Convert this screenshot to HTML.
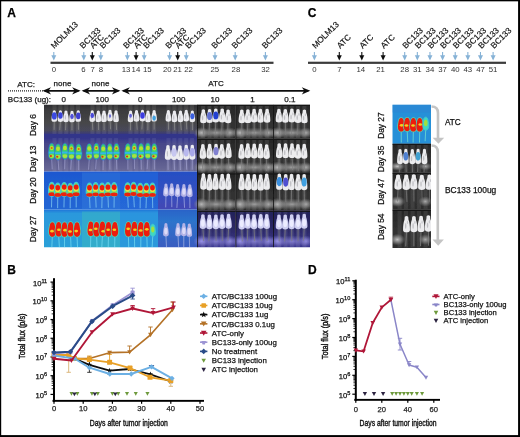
<!DOCTYPE html>
<html><head><meta charset="utf-8"><title>Figure</title>
<style>
html,body{margin:0;padding:0;background:#fff;}
body{width:520px;height:437px;overflow:hidden;}
svg{display:block;}
svg text{font-family:"Liberation Sans", sans-serif;stroke:#111;stroke-width:0.25px;}
</style></head><body>
<svg width="520" height="437" viewBox="0 0 520 437">
<defs>
<linearGradient id="gRow1" x1="0" y1="0" x2="0" y2="1">
 <stop offset="0" stop-color="#2c2c2e"/><stop offset="0.15" stop-color="#3a3a3c"/><stop offset="0.6" stop-color="#464648"/><stop offset="0.88" stop-color="#48485a"/><stop offset="1" stop-color="#38387a"/></linearGradient>
<linearGradient id="gRow2" x1="0" y1="0" x2="0" y2="1">
 <stop offset="0" stop-color="#32348a"/><stop offset="0.12" stop-color="#34368a"/><stop offset="0.25" stop-color="#46468a"/><stop offset="0.65" stop-color="#55558a"/><stop offset="1" stop-color="#6a6a98"/></linearGradient>
<linearGradient id="gRow3" x1="0" y1="0" x2="0" y2="1">
 <stop offset="0" stop-color="#1e58d0"/><stop offset="1" stop-color="#2266d4"/></linearGradient>
<linearGradient id="gRow4" x1="0" y1="0" x2="0" y2="1">
 <stop offset="0" stop-color="#2274d8"/><stop offset="0.1" stop-color="#2a98dc"/><stop offset="1" stop-color="#2aa0d8"/></linearGradient>
<linearGradient id="gRow4b" x1="0" y1="0" x2="0" y2="1">
 <stop offset="0" stop-color="#2a62c8"/><stop offset="0.3" stop-color="#2c74cc"/><stop offset="1" stop-color="#3a5cc0"/></linearGradient>
<linearGradient id="gRow3b" x1="0" y1="0" x2="0" y2="1">
 <stop offset="0" stop-color="#2650c4"/><stop offset="0.5" stop-color="#3250c0"/><stop offset="1" stop-color="#4448b4"/></linearGradient>
<linearGradient id="gBW" x1="0" y1="0" x2="0" y2="1">
 <stop offset="0" stop-color="#262626"/><stop offset="0.6" stop-color="#323232"/><stop offset="1" stop-color="#2e2e2e"/></linearGradient>
<linearGradient id="gBWp" x1="0" y1="0" x2="0" y2="1">
 <stop offset="0" stop-color="#221f58"/><stop offset="0.5" stop-color="#2c2a66"/><stop offset="1" stop-color="#3a3690"/></linearGradient>
<radialGradient id="glow" cx="0.5" cy="0.5" r="0.5">
 <stop offset="0" stop-color="#c4c4c4"/><stop offset="0.5" stop-color="#999999" stop-opacity="0.65"/><stop offset="1" stop-color="#888888" stop-opacity="0"/></radialGradient>
<radialGradient id="glowp" cx="0.5" cy="0.5" r="0.5">
 <stop offset="0" stop-color="#9a94e8"/><stop offset="1" stop-color="#8a84d8" stop-opacity="0"/></radialGradient>
<filter id="soft" x="-5%" y="-5%" width="110%" height="110%"><feGaussianBlur stdDeviation="0.45"/></filter>
<filter id="txtsoft" x="0" y="0" width="100%" height="100%" filterUnits="userSpaceOnUse"><feGaussianBlur stdDeviation="0.22"/></filter>
<clipPath id="clipA"><rect x="44" y="104.5" width="266" height="143"/></clipPath>
<clipPath id="clipC"><rect x="392.3" y="104.5" width="38.7" height="143.5"/></clipPath>
</defs>
<rect x="0" y="0" width="520" height="437" fill="#fff"/>
<g clip-path="url(#clipA)" filter="url(#soft)">
<rect x="44" y="104.5" width="38" height="29.5" fill="url(#gRow1)"/>
<rect x="82" y="104.5" width="38" height="29.5" fill="url(#gRow1)"/>
<rect x="120" y="104.5" width="38" height="29.5" fill="url(#gRow1)"/>
<rect x="158" y="104.5" width="39" height="29.5" fill="url(#gRow1)"/>
<rect x="44" y="134" width="38" height="37.5" fill="url(#gRow2)"/>
<rect x="82" y="134" width="38" height="37.5" fill="url(#gRow2)"/>
<rect x="120" y="134" width="38" height="37.5" fill="url(#gRow2)"/>
<rect x="158" y="134" width="39" height="37.5" fill="url(#gRow2)"/>
<rect x="44" y="171.5" width="38" height="38.0" fill="url(#gRow3)"/>
<rect x="82" y="171.5" width="38" height="38.0" fill="url(#gRow3)"/>
<rect x="120" y="171.5" width="38" height="38.0" fill="url(#gRow3)"/>
<rect x="158" y="171.5" width="39" height="38.0" fill="url(#gRow3b)"/>
<rect x="44" y="209.5" width="38" height="38.0" fill="url(#gRow4)"/>
<rect x="82" y="209.5" width="38" height="38.0" fill="url(#gRow4)"/>
<rect x="120" y="209.5" width="38" height="38.0" fill="url(#gRow4)"/>
<rect x="158" y="209.5" width="39" height="38.0" fill="url(#gRow4b)"/>
<rect x="82" y="172.5" width="38" height="37.0" fill="#3a80e0" opacity="0.35"/>
<rect x="82" y="211.5" width="38" height="36.0" fill="#40c0b8" opacity="0.4"/>
<rect x="120" y="172.5" width="38" height="37.0" fill="#2a6ee0" opacity="0.35"/>
<rect x="120" y="211.5" width="38" height="36.0" fill="#2a8ee0" opacity="0.4"/>
<rect x="197" y="104.5" width="38.5" height="34.099999999999994" fill="url(#gBW)"/>
<rect x="201.15" y="105.5" width="4" height="32.60" fill="#ffffff" opacity="0.09"/>
<rect x="207.45" y="105.5" width="4" height="32.60" fill="#ffffff" opacity="0.09"/>
<rect x="213.75" y="105.5" width="4" height="32.60" fill="#ffffff" opacity="0.09"/>
<rect x="220.05" y="105.5" width="4" height="32.60" fill="#ffffff" opacity="0.09"/>
<rect x="226.35" y="105.5" width="4" height="32.60" fill="#ffffff" opacity="0.09"/>
<ellipse cx="201.5" cy="132.80" rx="8" ry="5.8" fill="url(#glow)"/>
<ellipse cx="230" cy="132.80" rx="7" ry="5.5" fill="url(#glow)" opacity="0.85"/>
<ellipse cx="216" cy="132.80" rx="20" ry="5.5" fill="url(#glow)" opacity="0.7"/>
<rect x="197" y="104.5" width="38.5" height="1.2" fill="#111"/>
<rect x="197" y="104.5" width="0.8" height="34.099999999999994" fill="#151515"/>
<rect x="197" y="138.6" width="38.5" height="34.599999999999994" fill="url(#gBW)"/>
<rect x="201.15" y="139.6" width="4" height="33.10" fill="#ffffff" opacity="0.09"/>
<rect x="207.45" y="139.6" width="4" height="33.10" fill="#ffffff" opacity="0.09"/>
<rect x="213.75" y="139.6" width="4" height="33.10" fill="#ffffff" opacity="0.09"/>
<rect x="220.05" y="139.6" width="4" height="33.10" fill="#ffffff" opacity="0.09"/>
<rect x="226.35" y="139.6" width="4" height="33.10" fill="#ffffff" opacity="0.09"/>
<ellipse cx="201.5" cy="167.32" rx="8" ry="5.9" fill="url(#glow)"/>
<ellipse cx="230" cy="167.32" rx="7" ry="5.5" fill="url(#glow)" opacity="0.85"/>
<ellipse cx="216" cy="167.32" rx="20" ry="5.5" fill="url(#glow)" opacity="0.7"/>
<rect x="197" y="138.6" width="38.5" height="1.2" fill="#111"/>
<rect x="197" y="138.6" width="0.8" height="34.599999999999994" fill="#151515"/>
<rect x="197" y="173.2" width="38.5" height="37.400000000000006" fill="url(#gBW)"/>
<rect x="201.15" y="174.2" width="4" height="35.90" fill="#ffffff" opacity="0.09"/>
<rect x="207.45" y="174.2" width="4" height="35.90" fill="#ffffff" opacity="0.09"/>
<rect x="213.75" y="174.2" width="4" height="35.90" fill="#ffffff" opacity="0.09"/>
<rect x="220.05" y="174.2" width="4" height="35.90" fill="#ffffff" opacity="0.09"/>
<rect x="226.35" y="174.2" width="4" height="35.90" fill="#ffffff" opacity="0.09"/>
<ellipse cx="201.5" cy="204.24" rx="8" ry="6.4" fill="url(#glow)"/>
<ellipse cx="230" cy="204.24" rx="7" ry="6.0" fill="url(#glow)" opacity="0.85"/>
<ellipse cx="216" cy="204.24" rx="20" ry="6.0" fill="url(#glow)" opacity="0.7"/>
<rect x="197" y="173.2" width="38.5" height="1.2" fill="#111"/>
<rect x="197" y="173.2" width="0.8" height="37.400000000000006" fill="#151515"/>
<rect x="197" y="210.6" width="38.5" height="36.900000000000006" fill="url(#gBWp)"/>
<rect x="201.15" y="211.6" width="4" height="35.40" fill="#ffffff" opacity="0.09"/>
<rect x="207.45" y="211.6" width="4" height="35.40" fill="#ffffff" opacity="0.09"/>
<rect x="213.75" y="211.6" width="4" height="35.40" fill="#ffffff" opacity="0.09"/>
<rect x="220.05" y="211.6" width="4" height="35.40" fill="#ffffff" opacity="0.09"/>
<rect x="226.35" y="211.6" width="4" height="35.40" fill="#ffffff" opacity="0.09"/>
<ellipse cx="201.5" cy="241.23" rx="8" ry="6.3" fill="url(#glowp)"/>
<ellipse cx="230" cy="241.23" rx="7" ry="5.9" fill="url(#glowp)" opacity="0.85"/>
<ellipse cx="216" cy="241.23" rx="20" ry="5.9" fill="url(#glowp)" opacity="0.7"/>
<rect x="197" y="210.6" width="38.5" height="1.2" fill="#111"/>
<rect x="197" y="210.6" width="0.8" height="36.900000000000006" fill="#151515"/>
<rect x="235.5" y="104.5" width="37.5" height="34.099999999999994" fill="url(#gBW)"/>
<rect x="239.65" y="105.5" width="4" height="32.60" fill="#ffffff" opacity="0.09"/>
<rect x="245.95" y="105.5" width="4" height="32.60" fill="#ffffff" opacity="0.09"/>
<rect x="252.25" y="105.5" width="4" height="32.60" fill="#ffffff" opacity="0.09"/>
<rect x="258.55" y="105.5" width="4" height="32.60" fill="#ffffff" opacity="0.09"/>
<rect x="264.85" y="105.5" width="4" height="32.60" fill="#ffffff" opacity="0.09"/>
<ellipse cx="240.0" cy="132.80" rx="8" ry="5.8" fill="url(#glow)"/>
<ellipse cx="268.5" cy="132.80" rx="7" ry="5.5" fill="url(#glow)" opacity="0.85"/>
<ellipse cx="254.5" cy="132.80" rx="20" ry="5.5" fill="url(#glow)" opacity="0.7"/>
<rect x="235.5" y="104.5" width="37.5" height="1.2" fill="#111"/>
<rect x="235.5" y="104.5" width="0.8" height="34.099999999999994" fill="#151515"/>
<rect x="235.5" y="138.6" width="37.5" height="34.599999999999994" fill="url(#gBW)"/>
<rect x="239.65" y="139.6" width="4" height="33.10" fill="#ffffff" opacity="0.09"/>
<rect x="245.95" y="139.6" width="4" height="33.10" fill="#ffffff" opacity="0.09"/>
<rect x="252.25" y="139.6" width="4" height="33.10" fill="#ffffff" opacity="0.09"/>
<rect x="258.55" y="139.6" width="4" height="33.10" fill="#ffffff" opacity="0.09"/>
<rect x="264.85" y="139.6" width="4" height="33.10" fill="#ffffff" opacity="0.09"/>
<ellipse cx="240.0" cy="167.32" rx="8" ry="5.9" fill="url(#glow)"/>
<ellipse cx="268.5" cy="167.32" rx="7" ry="5.5" fill="url(#glow)" opacity="0.85"/>
<ellipse cx="254.5" cy="167.32" rx="20" ry="5.5" fill="url(#glow)" opacity="0.7"/>
<rect x="235.5" y="138.6" width="37.5" height="1.2" fill="#111"/>
<rect x="235.5" y="138.6" width="0.8" height="34.599999999999994" fill="#151515"/>
<rect x="235.5" y="173.2" width="37.5" height="37.400000000000006" fill="url(#gBW)"/>
<rect x="239.65" y="174.2" width="4" height="35.90" fill="#ffffff" opacity="0.09"/>
<rect x="245.95" y="174.2" width="4" height="35.90" fill="#ffffff" opacity="0.09"/>
<rect x="252.25" y="174.2" width="4" height="35.90" fill="#ffffff" opacity="0.09"/>
<rect x="258.55" y="174.2" width="4" height="35.90" fill="#ffffff" opacity="0.09"/>
<rect x="264.85" y="174.2" width="4" height="35.90" fill="#ffffff" opacity="0.09"/>
<ellipse cx="240.0" cy="204.24" rx="8" ry="6.4" fill="url(#glow)"/>
<ellipse cx="268.5" cy="204.24" rx="7" ry="6.0" fill="url(#glow)" opacity="0.85"/>
<ellipse cx="254.5" cy="204.24" rx="20" ry="6.0" fill="url(#glow)" opacity="0.7"/>
<rect x="235.5" y="173.2" width="37.5" height="1.2" fill="#111"/>
<rect x="235.5" y="173.2" width="0.8" height="37.400000000000006" fill="#151515"/>
<rect x="235.5" y="210.6" width="37.5" height="36.900000000000006" fill="url(#gBWp)"/>
<rect x="239.65" y="211.6" width="4" height="35.40" fill="#ffffff" opacity="0.09"/>
<rect x="245.95" y="211.6" width="4" height="35.40" fill="#ffffff" opacity="0.09"/>
<rect x="252.25" y="211.6" width="4" height="35.40" fill="#ffffff" opacity="0.09"/>
<rect x="258.55" y="211.6" width="4" height="35.40" fill="#ffffff" opacity="0.09"/>
<rect x="264.85" y="211.6" width="4" height="35.40" fill="#ffffff" opacity="0.09"/>
<ellipse cx="240.0" cy="241.23" rx="8" ry="6.3" fill="url(#glowp)"/>
<ellipse cx="268.5" cy="241.23" rx="7" ry="5.9" fill="url(#glowp)" opacity="0.85"/>
<ellipse cx="254.5" cy="241.23" rx="20" ry="5.9" fill="url(#glowp)" opacity="0.7"/>
<rect x="235.5" y="210.6" width="37.5" height="1.2" fill="#111"/>
<rect x="235.5" y="210.6" width="0.8" height="36.900000000000006" fill="#151515"/>
<rect x="273" y="104.5" width="37" height="34.099999999999994" fill="url(#gBW)"/>
<rect x="277.15" y="105.5" width="4" height="32.60" fill="#ffffff" opacity="0.09"/>
<rect x="283.45" y="105.5" width="4" height="32.60" fill="#ffffff" opacity="0.09"/>
<rect x="289.75" y="105.5" width="4" height="32.60" fill="#ffffff" opacity="0.09"/>
<rect x="296.05" y="105.5" width="4" height="32.60" fill="#ffffff" opacity="0.09"/>
<rect x="302.35" y="105.5" width="4" height="32.60" fill="#ffffff" opacity="0.09"/>
<ellipse cx="277.5" cy="132.80" rx="8" ry="5.8" fill="url(#glow)"/>
<ellipse cx="306" cy="132.80" rx="7" ry="5.5" fill="url(#glow)" opacity="0.85"/>
<ellipse cx="292" cy="132.80" rx="20" ry="5.5" fill="url(#glow)" opacity="0.7"/>
<rect x="273" y="104.5" width="37" height="1.2" fill="#111"/>
<rect x="273" y="104.5" width="0.8" height="34.099999999999994" fill="#151515"/>
<rect x="273" y="138.6" width="37" height="34.599999999999994" fill="url(#gBW)"/>
<rect x="277.15" y="139.6" width="4" height="33.10" fill="#ffffff" opacity="0.09"/>
<rect x="283.45" y="139.6" width="4" height="33.10" fill="#ffffff" opacity="0.09"/>
<rect x="289.75" y="139.6" width="4" height="33.10" fill="#ffffff" opacity="0.09"/>
<rect x="296.05" y="139.6" width="4" height="33.10" fill="#ffffff" opacity="0.09"/>
<rect x="302.35" y="139.6" width="4" height="33.10" fill="#ffffff" opacity="0.09"/>
<ellipse cx="277.5" cy="167.32" rx="8" ry="5.9" fill="url(#glow)"/>
<ellipse cx="306" cy="167.32" rx="7" ry="5.5" fill="url(#glow)" opacity="0.85"/>
<ellipse cx="292" cy="167.32" rx="20" ry="5.5" fill="url(#glow)" opacity="0.7"/>
<rect x="273" y="138.6" width="37" height="1.2" fill="#111"/>
<rect x="273" y="138.6" width="0.8" height="34.599999999999994" fill="#151515"/>
<rect x="273" y="173.2" width="37" height="37.400000000000006" fill="url(#gBW)"/>
<rect x="277.15" y="174.2" width="4" height="35.90" fill="#ffffff" opacity="0.09"/>
<rect x="283.45" y="174.2" width="4" height="35.90" fill="#ffffff" opacity="0.09"/>
<rect x="289.75" y="174.2" width="4" height="35.90" fill="#ffffff" opacity="0.09"/>
<rect x="296.05" y="174.2" width="4" height="35.90" fill="#ffffff" opacity="0.09"/>
<rect x="302.35" y="174.2" width="4" height="35.90" fill="#ffffff" opacity="0.09"/>
<ellipse cx="277.5" cy="204.24" rx="8" ry="6.4" fill="url(#glow)"/>
<ellipse cx="306" cy="204.24" rx="7" ry="6.0" fill="url(#glow)" opacity="0.85"/>
<ellipse cx="292" cy="204.24" rx="20" ry="6.0" fill="url(#glow)" opacity="0.7"/>
<rect x="273" y="173.2" width="37" height="1.2" fill="#111"/>
<rect x="273" y="173.2" width="0.8" height="37.400000000000006" fill="#151515"/>
<rect x="273" y="210.6" width="37" height="36.900000000000006" fill="url(#gBWp)"/>
<rect x="277.15" y="211.6" width="4" height="35.40" fill="#ffffff" opacity="0.09"/>
<rect x="283.45" y="211.6" width="4" height="35.40" fill="#ffffff" opacity="0.09"/>
<rect x="289.75" y="211.6" width="4" height="35.40" fill="#ffffff" opacity="0.09"/>
<rect x="296.05" y="211.6" width="4" height="35.40" fill="#ffffff" opacity="0.09"/>
<rect x="302.35" y="211.6" width="4" height="35.40" fill="#ffffff" opacity="0.09"/>
<ellipse cx="277.5" cy="241.23" rx="8" ry="6.3" fill="url(#glowp)"/>
<ellipse cx="306" cy="241.23" rx="7" ry="5.9" fill="url(#glowp)" opacity="0.85"/>
<ellipse cx="292" cy="241.23" rx="20" ry="5.9" fill="url(#glowp)" opacity="0.7"/>
<rect x="273" y="210.6" width="37" height="1.2" fill="#111"/>
<rect x="273" y="210.6" width="0.8" height="36.900000000000006" fill="#151515"/>
<rect x="52.45" y="105.00" width="4" height="29.00" fill="#ffffff" opacity="0.08"/>
<rect x="58.35" y="105.00" width="4" height="29.00" fill="#ffffff" opacity="0.08"/>
<rect x="64.25" y="105.00" width="4" height="29.00" fill="#ffffff" opacity="0.08"/>
<rect x="70.15" y="105.00" width="4" height="29.00" fill="#ffffff" opacity="0.08"/>
<rect x="76.05" y="105.00" width="4" height="29.00" fill="#ffffff" opacity="0.08"/>
<rect x="52.45" y="138.00" width="4" height="33.50" fill="#ffffff" opacity="0.07"/>
<rect x="58.35" y="138.00" width="4" height="33.50" fill="#ffffff" opacity="0.07"/>
<rect x="64.25" y="138.00" width="4" height="33.50" fill="#ffffff" opacity="0.07"/>
<rect x="70.15" y="138.00" width="4" height="33.50" fill="#ffffff" opacity="0.07"/>
<rect x="76.05" y="138.00" width="4" height="33.50" fill="#ffffff" opacity="0.07"/>
<rect x="90.45" y="105.00" width="4" height="29.00" fill="#ffffff" opacity="0.08"/>
<rect x="96.35" y="105.00" width="4" height="29.00" fill="#ffffff" opacity="0.08"/>
<rect x="102.25" y="105.00" width="4" height="29.00" fill="#ffffff" opacity="0.08"/>
<rect x="108.15" y="105.00" width="4" height="29.00" fill="#ffffff" opacity="0.08"/>
<rect x="114.05" y="105.00" width="4" height="29.00" fill="#ffffff" opacity="0.08"/>
<rect x="90.45" y="138.00" width="4" height="33.50" fill="#ffffff" opacity="0.07"/>
<rect x="96.35" y="138.00" width="4" height="33.50" fill="#ffffff" opacity="0.07"/>
<rect x="102.25" y="138.00" width="4" height="33.50" fill="#ffffff" opacity="0.07"/>
<rect x="108.15" y="138.00" width="4" height="33.50" fill="#ffffff" opacity="0.07"/>
<rect x="114.05" y="138.00" width="4" height="33.50" fill="#ffffff" opacity="0.07"/>
<rect x="128.45" y="105.00" width="4" height="29.00" fill="#ffffff" opacity="0.08"/>
<rect x="134.35" y="105.00" width="4" height="29.00" fill="#ffffff" opacity="0.08"/>
<rect x="140.25" y="105.00" width="4" height="29.00" fill="#ffffff" opacity="0.08"/>
<rect x="146.15" y="105.00" width="4" height="29.00" fill="#ffffff" opacity="0.08"/>
<rect x="152.05" y="105.00" width="4" height="29.00" fill="#ffffff" opacity="0.08"/>
<rect x="128.45" y="138.00" width="4" height="33.50" fill="#ffffff" opacity="0.07"/>
<rect x="134.35" y="138.00" width="4" height="33.50" fill="#ffffff" opacity="0.07"/>
<rect x="140.25" y="138.00" width="4" height="33.50" fill="#ffffff" opacity="0.07"/>
<rect x="146.15" y="138.00" width="4" height="33.50" fill="#ffffff" opacity="0.07"/>
<rect x="152.05" y="138.00" width="4" height="33.50" fill="#ffffff" opacity="0.07"/>
<rect x="166.45" y="105.00" width="4" height="29.00" fill="#ffffff" opacity="0.08"/>
<rect x="172.35" y="105.00" width="4" height="29.00" fill="#ffffff" opacity="0.08"/>
<rect x="178.25" y="105.00" width="4" height="29.00" fill="#ffffff" opacity="0.08"/>
<rect x="184.15" y="105.00" width="4" height="29.00" fill="#ffffff" opacity="0.08"/>
<rect x="190.05" y="105.00" width="4" height="29.00" fill="#ffffff" opacity="0.08"/>
<rect x="166.45" y="138.00" width="4" height="33.50" fill="#ffffff" opacity="0.07"/>
<rect x="172.35" y="138.00" width="4" height="33.50" fill="#ffffff" opacity="0.07"/>
<rect x="178.25" y="138.00" width="4" height="33.50" fill="#ffffff" opacity="0.07"/>
<rect x="184.15" y="138.00" width="4" height="33.50" fill="#ffffff" opacity="0.07"/>
<rect x="190.05" y="138.00" width="4" height="33.50" fill="#ffffff" opacity="0.07"/>
<line x1="54.29" y1="120.84" x2="54.08" y2="129.84" stroke="#8a8a8a" stroke-width="0.9" opacity="0.85"/>
<path d="M52.89,110.94 Q54.29,109.44 55.69,110.94 L55.90,112.88 C56.67,114.29 57.10,117.36 57.10,119.96 Q57.10,121.84 54.29,121.84 Q51.49,121.84 51.49,119.96 C51.49,117.36 51.91,114.29 52.68,112.88 Z" fill="#ececf0"/>
<ellipse cx="53.69" cy="117.12" rx="0.5" ry="2.36" fill="#9a9aa0" opacity="0.6"/>
<ellipse cx="54.29" cy="115.94" rx="2.47" ry="3.63" fill="#3a48e0"/>
<line x1="60.41" y1="120.93" x2="59.72" y2="129.93" stroke="#8a8a8a" stroke-width="0.9" opacity="0.85"/>
<path d="M59.01,111.03 Q60.41,109.53 61.81,111.03 L62.02,112.96 C62.79,114.37 63.21,117.44 63.21,120.04 Q63.21,121.93 60.41,121.93 Q57.61,121.93 57.61,120.04 C57.61,117.44 58.03,114.37 58.80,112.96 Z" fill="#ececf0"/>
<ellipse cx="59.81" cy="117.21" rx="0.5" ry="2.36" fill="#9a9aa0" opacity="0.6"/>
<ellipse cx="60.41" cy="115.44" rx="2.24" ry="3.30" fill="#3a44d8"/>
<line x1="65.96" y1="121.14" x2="65.57" y2="130.14" stroke="#8a8a8a" stroke-width="0.9" opacity="0.85"/>
<path d="M64.56,111.24 Q65.96,109.74 67.36,111.24 L67.57,113.17 C68.34,114.59 68.76,117.65 68.76,120.25 Q68.76,122.14 65.96,122.14 Q63.16,122.14 63.16,120.25 C63.16,117.65 63.58,114.59 64.35,113.17 Z" fill="#ececf0"/>
<ellipse cx="65.36" cy="117.42" rx="0.5" ry="2.36" fill="#9a9aa0" opacity="0.6"/>
<line x1="71.99" y1="121.30" x2="71.94" y2="130.30" stroke="#8a8a8a" stroke-width="0.9" opacity="0.85"/>
<path d="M70.59,111.40 Q71.99,109.90 73.39,111.40 L73.60,113.33 C74.37,114.74 74.79,117.81 74.79,120.41 Q74.79,122.30 71.99,122.30 Q69.19,122.30 69.19,120.41 C69.19,117.81 69.61,114.74 70.38,113.33 Z" fill="#ececf0"/>
<ellipse cx="71.39" cy="117.58" rx="0.5" ry="2.36" fill="#9a9aa0" opacity="0.6"/>
<ellipse cx="71.99" cy="116.40" rx="1.79" ry="2.64" fill="#5050d8"/>
<line x1="78.25" y1="120.78" x2="78.47" y2="129.78" stroke="#8a8a8a" stroke-width="0.9" opacity="0.85"/>
<path d="M76.85,110.88 Q78.25,109.38 79.65,110.88 L79.86,112.81 C80.63,114.22 81.05,117.29 81.05,119.89 Q81.05,121.78 78.25,121.78 Q75.45,121.78 75.45,119.89 C75.45,117.29 75.87,114.22 76.64,112.81 Z" fill="#ececf0"/>
<ellipse cx="77.65" cy="117.06" rx="0.5" ry="2.36" fill="#9a9aa0" opacity="0.6"/>
<ellipse cx="78.25" cy="115.88" rx="2.24" ry="3.30" fill="#4040d0"/>
<line x1="92.24" y1="120.93" x2="92.83" y2="129.93" stroke="#8a8a8a" stroke-width="0.9" opacity="0.85"/>
<path d="M90.84,111.03 Q92.24,109.53 93.64,111.03 L93.85,112.97 C94.62,114.38 95.04,117.45 95.04,120.05 Q95.04,121.93 92.24,121.93 Q89.44,121.93 89.44,120.05 C89.44,117.45 89.86,114.38 90.63,112.97 Z" fill="#ececf0"/>
<ellipse cx="91.64" cy="117.21" rx="0.5" ry="2.36" fill="#9a9aa0" opacity="0.6"/>
<ellipse cx="92.24" cy="115.44" rx="1.79" ry="2.64" fill="#4a4ad8"/>
<line x1="98.36" y1="121.04" x2="98.64" y2="130.04" stroke="#8a8a8a" stroke-width="0.9" opacity="0.85"/>
<path d="M96.96,111.14 Q98.36,109.64 99.77,111.14 L99.98,113.07 C100.75,114.49 101.17,117.56 101.17,120.15 Q101.17,122.04 98.36,122.04 Q95.56,122.04 95.56,120.15 C95.56,117.56 95.98,114.49 96.75,113.07 Z" fill="#ececf0"/>
<ellipse cx="97.76" cy="117.32" rx="0.5" ry="2.36" fill="#9a9aa0" opacity="0.6"/>
<line x1="103.99" y1="121.06" x2="104.13" y2="130.06" stroke="#8a8a8a" stroke-width="0.9" opacity="0.85"/>
<path d="M102.59,111.16 Q103.99,109.66 105.39,111.16 L105.60,113.09 C106.37,114.51 106.79,117.57 106.79,120.17 Q106.79,122.06 103.99,122.06 Q101.19,122.06 101.19,120.17 C101.19,117.57 101.61,114.51 102.38,113.09 Z" fill="#ececf0"/>
<ellipse cx="103.39" cy="117.34" rx="0.5" ry="2.36" fill="#9a9aa0" opacity="0.6"/>
<line x1="110.03" y1="120.33" x2="110.62" y2="129.33" stroke="#8a8a8a" stroke-width="0.9" opacity="0.85"/>
<path d="M108.63,110.43 Q110.03,108.93 111.43,110.43 L111.64,112.36 C112.41,113.78 112.83,116.85 112.83,119.44 Q112.83,121.33 110.03,121.33 Q107.23,121.33 107.23,119.44 C107.23,116.85 107.65,113.78 108.42,112.36 Z" fill="#ececf0"/>
<ellipse cx="109.43" cy="116.61" rx="0.5" ry="2.36" fill="#9a9aa0" opacity="0.6"/>
<ellipse cx="110.03" cy="116.02" rx="1.12" ry="1.65" fill="#7070d8"/>
<line x1="116.03" y1="121.02" x2="116.64" y2="130.02" stroke="#8a8a8a" stroke-width="0.9" opacity="0.85"/>
<path d="M114.63,111.12 Q116.03,109.62 117.43,111.12 L117.65,113.05 C118.42,114.47 118.84,117.53 118.84,120.13 Q118.84,122.02 116.03,122.02 Q113.23,122.02 113.23,120.13 C113.23,117.53 113.65,114.47 114.42,113.05 Z" fill="#ececf0"/>
<ellipse cx="115.43" cy="117.30" rx="0.5" ry="2.36" fill="#9a9aa0" opacity="0.6"/>
<line x1="130.58" y1="121.22" x2="130.41" y2="130.22" stroke="#8a8a8a" stroke-width="0.9" opacity="0.85"/>
<path d="M129.18,111.32 Q130.58,109.82 131.98,111.32 L132.19,113.25 C132.96,114.67 133.38,117.74 133.38,120.33 Q133.38,122.22 130.58,122.22 Q127.78,122.22 127.78,120.33 C127.78,117.74 128.20,114.67 128.97,113.25 Z" fill="#ececf0"/>
<ellipse cx="129.98" cy="117.50" rx="0.5" ry="2.36" fill="#9a9aa0" opacity="0.6"/>
<ellipse cx="130.58" cy="115.73" rx="1.35" ry="1.98" fill="#6060d8"/>
<line x1="136.53" y1="120.74" x2="137.23" y2="129.74" stroke="#8a8a8a" stroke-width="0.9" opacity="0.85"/>
<path d="M135.13,110.84 Q136.53,109.34 137.93,110.84 L138.14,112.78 C138.91,114.19 139.33,117.26 139.33,119.86 Q139.33,121.74 136.53,121.74 Q133.73,121.74 133.73,119.86 C133.73,117.26 134.15,114.19 134.92,112.78 Z" fill="#ececf0"/>
<ellipse cx="135.93" cy="117.02" rx="0.5" ry="2.36" fill="#9a9aa0" opacity="0.6"/>
<line x1="142.48" y1="120.40" x2="141.89" y2="129.40" stroke="#8a8a8a" stroke-width="0.9" opacity="0.85"/>
<path d="M141.08,110.50 Q142.48,109.00 143.88,110.50 L144.09,112.43 C144.86,113.85 145.28,116.91 145.28,119.51 Q145.28,121.40 142.48,121.40 Q139.67,121.40 139.67,119.51 C139.67,116.91 140.10,113.85 140.87,112.43 Z" fill="#ececf0"/>
<ellipse cx="141.88" cy="116.68" rx="0.5" ry="2.36" fill="#9a9aa0" opacity="0.6"/>
<ellipse cx="142.48" cy="115.50" rx="2.24" ry="3.30" fill="#3a3ae0"/>
<line x1="147.98" y1="121.27" x2="147.88" y2="130.27" stroke="#8a8a8a" stroke-width="0.9" opacity="0.85"/>
<path d="M146.58,111.37 Q147.98,109.87 149.38,111.37 L149.59,113.30 C150.36,114.71 150.78,117.78 150.78,120.38 Q150.78,122.27 147.98,122.27 Q145.18,122.27 145.18,120.38 C145.18,117.78 145.60,114.71 146.37,113.30 Z" fill="#ececf0"/>
<ellipse cx="147.38" cy="117.55" rx="0.5" ry="2.36" fill="#9a9aa0" opacity="0.6"/>
<line x1="154.13" y1="120.60" x2="154.14" y2="129.60" stroke="#8a8a8a" stroke-width="0.9" opacity="0.85"/>
<path d="M152.72,110.70 Q154.13,109.20 155.53,110.70 L155.74,112.63 C156.51,114.05 156.93,117.12 156.93,119.71 Q156.93,121.60 154.13,121.60 Q151.32,121.60 151.32,119.71 C151.32,117.12 151.74,114.05 152.51,112.63 Z" fill="#ececf0"/>
<ellipse cx="153.53" cy="116.88" rx="0.5" ry="2.36" fill="#9a9aa0" opacity="0.6"/>
<ellipse cx="154.13" cy="118.06" rx="1.79" ry="2.64" fill="#40a0e0"/>
<line x1="168.38" y1="120.65" x2="168.52" y2="129.65" stroke="#8a8a8a" stroke-width="0.9" opacity="0.85"/>
<path d="M166.98,110.75 Q168.38,109.25 169.78,110.75 L169.99,112.68 C170.76,114.10 171.18,117.17 171.18,119.76 Q171.18,121.65 168.38,121.65 Q165.58,121.65 165.58,119.76 C165.58,117.17 166.00,114.10 166.77,112.68 Z" fill="#ececf0"/>
<ellipse cx="167.78" cy="116.93" rx="0.5" ry="2.36" fill="#9a9aa0" opacity="0.6"/>
<line x1="174.40" y1="121.20" x2="174.69" y2="130.20" stroke="#8a8a8a" stroke-width="0.9" opacity="0.85"/>
<path d="M173.00,111.30 Q174.40,109.80 175.80,111.30 L176.01,113.24 C176.78,114.65 177.20,117.72 177.20,120.32 Q177.20,122.20 174.40,122.20 Q171.60,122.20 171.60,120.32 C171.60,117.72 172.02,114.65 172.79,113.24 Z" fill="#ececf0"/>
<ellipse cx="173.80" cy="117.48" rx="0.5" ry="2.36" fill="#9a9aa0" opacity="0.6"/>
<line x1="180.51" y1="121.16" x2="181.29" y2="130.16" stroke="#8a8a8a" stroke-width="0.9" opacity="0.85"/>
<path d="M179.11,111.26 Q180.51,109.76 181.91,111.26 L182.12,113.19 C182.89,114.60 183.31,117.67 183.31,120.27 Q183.31,122.16 180.51,122.16 Q177.70,122.16 177.70,120.27 C177.70,117.67 178.13,114.60 178.90,113.19 Z" fill="#ececf0"/>
<ellipse cx="179.91" cy="117.44" rx="0.5" ry="2.36" fill="#9a9aa0" opacity="0.6"/>
<line x1="186.25" y1="120.46" x2="186.83" y2="129.46" stroke="#8a8a8a" stroke-width="0.9" opacity="0.85"/>
<path d="M184.85,110.56 Q186.25,109.06 187.65,110.56 L187.86,112.50 C188.63,113.91 189.06,116.98 189.06,119.58 Q189.06,121.46 186.25,121.46 Q183.45,121.46 183.45,119.58 C183.45,116.98 183.87,113.91 184.64,112.50 Z" fill="#ececf0"/>
<ellipse cx="185.65" cy="116.74" rx="0.5" ry="2.36" fill="#9a9aa0" opacity="0.6"/>
<line x1="192.33" y1="121.20" x2="192.44" y2="130.20" stroke="#8a8a8a" stroke-width="0.9" opacity="0.85"/>
<path d="M190.93,111.30 Q192.33,109.80 193.73,111.30 L193.94,113.24 C194.71,114.65 195.13,117.72 195.13,120.32 Q195.13,122.20 192.33,122.20 Q189.53,122.20 189.53,120.32 C189.53,117.72 189.95,114.65 190.72,113.24 Z" fill="#ececf0"/>
<ellipse cx="191.73" cy="117.48" rx="0.5" ry="2.36" fill="#9a9aa0" opacity="0.6"/>
<ellipse cx="192.33" cy="116.30" rx="2.02" ry="2.97" fill="#3a60e0"/>
<line x1="51.69" y1="158.31" x2="52.22" y2="169.31" stroke="#9a9ac8" stroke-width="0.9" opacity="0.85"/>
<path d="M51.69,143.31 C54.49,143.31 54.16,148.11 54.99,152.11 C55.25,156.43 54.16,159.31 51.69,159.31 C49.21,159.31 48.12,156.43 48.39,152.11 C49.21,148.11 48.88,143.31 51.69,143.31 Z" fill="#3ccc70" stroke="#2a70e0" stroke-width="0.7"/>
<ellipse cx="51.69" cy="148.11" rx="1.98" ry="2.24" fill="#b8e030"/>
<rect x="48.69" y="151.63" width="6.00" height="1.92" fill="#30b8e8"/>
<ellipse cx="51.69" cy="156.11" rx="2.51" ry="1.92" fill="#a8e040"/>
<ellipse cx="50.89" cy="156.11" rx="1.1" ry="1" fill="#e03010"/>
<ellipse cx="51.69" cy="148.11" rx="1.0" ry="1" fill="#e06010"/>
<line x1="58.02" y1="158.95" x2="58.80" y2="169.95" stroke="#9a9ac8" stroke-width="0.9" opacity="0.85"/>
<path d="M58.02,143.95 C60.82,143.95 60.49,148.75 61.32,152.75 C61.58,157.07 60.49,159.95 58.02,159.95 C55.54,159.95 54.45,157.07 54.72,152.75 C55.54,148.75 55.21,143.95 58.02,143.95 Z" fill="#3ccc70" stroke="#2a70e0" stroke-width="0.7"/>
<ellipse cx="58.02" cy="148.75" rx="1.98" ry="2.24" fill="#b8e030"/>
<rect x="55.02" y="152.27" width="6.00" height="1.92" fill="#30b8e8"/>
<ellipse cx="58.02" cy="156.75" rx="2.51" ry="1.92" fill="#a8e040"/>
<ellipse cx="57.22" cy="156.75" rx="1.1" ry="1" fill="#e03010"/>
<line x1="64.95" y1="158.25" x2="64.62" y2="169.25" stroke="#9a9ac8" stroke-width="0.9" opacity="0.85"/>
<path d="M64.95,143.25 C67.75,143.25 67.42,148.05 68.25,152.05 C68.51,156.37 67.42,159.25 64.95,159.25 C62.47,159.25 61.38,156.37 61.65,152.05 C62.47,148.05 62.14,143.25 64.95,143.25 Z" fill="#3ccc70" stroke="#2a70e0" stroke-width="0.7"/>
<ellipse cx="64.95" cy="148.05" rx="1.98" ry="2.24" fill="#b8e030"/>
<rect x="61.95" y="151.57" width="6.00" height="1.92" fill="#30b8e8"/>
<ellipse cx="64.95" cy="156.05" rx="2.51" ry="1.92" fill="#a8e040"/>
<line x1="71.45" y1="158.71" x2="70.72" y2="169.71" stroke="#9a9ac8" stroke-width="0.9" opacity="0.85"/>
<path d="M71.45,143.71 C74.25,143.71 73.92,148.51 74.75,152.51 C75.01,156.83 73.92,159.71 71.45,159.71 C68.97,159.71 67.88,156.83 68.15,152.51 C68.97,148.51 68.64,143.71 71.45,143.71 Z" fill="#3ccc70" stroke="#2a70e0" stroke-width="0.7"/>
<ellipse cx="71.45" cy="148.51" rx="1.98" ry="2.24" fill="#b8e030"/>
<rect x="68.45" y="152.03" width="6.00" height="1.92" fill="#30b8e8"/>
<ellipse cx="71.45" cy="156.51" rx="2.51" ry="1.92" fill="#a8e040"/>
<ellipse cx="71.45" cy="148.51" rx="1.0" ry="1" fill="#e06010"/>
<line x1="78.67" y1="159.08" x2="78.68" y2="170.08" stroke="#9a9ac8" stroke-width="0.9" opacity="0.85"/>
<path d="M78.67,144.08 C81.47,144.08 81.14,148.88 81.97,152.88 C82.23,157.20 81.14,160.08 78.67,160.08 C76.19,160.08 75.10,157.20 75.37,152.88 C76.19,148.88 75.86,144.08 78.67,144.08 Z" fill="#3ccc70" stroke="#2a70e0" stroke-width="0.7"/>
<ellipse cx="78.67" cy="148.88" rx="1.98" ry="2.24" fill="#b8e030"/>
<rect x="75.67" y="152.40" width="6.00" height="1.92" fill="#30b8e8"/>
<ellipse cx="78.67" cy="156.88" rx="2.51" ry="1.92" fill="#a8e040"/>
<ellipse cx="78.67" cy="148.88" rx="1.0" ry="1" fill="#e06010"/>
<line x1="89.31" y1="158.70" x2="88.56" y2="169.70" stroke="#9a9ac8" stroke-width="0.9" opacity="0.85"/>
<path d="M89.31,143.70 C92.11,143.70 91.78,148.50 92.61,152.50 C92.87,156.82 91.78,159.70 89.31,159.70 C86.83,159.70 85.74,156.82 86.01,152.50 C86.83,148.50 86.50,143.70 89.31,143.70 Z" fill="#3ccc70" stroke="#2a70e0" stroke-width="0.7"/>
<ellipse cx="89.31" cy="148.50" rx="1.98" ry="2.24" fill="#b8e030"/>
<rect x="86.31" y="152.02" width="6.00" height="1.92" fill="#30b8e8"/>
<ellipse cx="89.31" cy="156.50" rx="2.51" ry="1.92" fill="#a8e040"/>
<ellipse cx="88.51" cy="156.50" rx="1.1" ry="1" fill="#e03010"/>
<line x1="96.35" y1="158.26" x2="95.61" y2="169.26" stroke="#9a9ac8" stroke-width="0.9" opacity="0.85"/>
<path d="M96.35,143.26 C99.15,143.26 98.82,148.06 99.65,152.06 C99.91,156.38 98.82,159.26 96.35,159.26 C93.87,159.26 92.78,156.38 93.05,152.06 C93.87,148.06 93.54,143.26 96.35,143.26 Z" fill="#3ccc70" stroke="#2a70e0" stroke-width="0.7"/>
<ellipse cx="96.35" cy="148.06" rx="1.98" ry="2.24" fill="#b8e030"/>
<rect x="93.35" y="151.58" width="6.00" height="1.92" fill="#30b8e8"/>
<ellipse cx="96.35" cy="156.06" rx="2.51" ry="1.92" fill="#a8e040"/>
<ellipse cx="96.35" cy="148.06" rx="1.0" ry="1" fill="#e06010"/>
<line x1="103.28" y1="159.00" x2="103.08" y2="170.00" stroke="#9a9ac8" stroke-width="0.9" opacity="0.85"/>
<path d="M103.28,144.00 C106.08,144.00 105.75,148.80 106.58,152.80 C106.84,157.12 105.75,160.00 103.28,160.00 C100.80,160.00 99.71,157.12 99.98,152.80 C100.80,148.80 100.47,144.00 103.28,144.00 Z" fill="#3ccc70" stroke="#2a70e0" stroke-width="0.7"/>
<ellipse cx="103.28" cy="148.80" rx="1.98" ry="2.24" fill="#b8e030"/>
<rect x="100.28" y="152.32" width="6.00" height="1.92" fill="#30b8e8"/>
<ellipse cx="103.28" cy="156.80" rx="2.51" ry="1.92" fill="#a8e040"/>
<ellipse cx="102.48" cy="156.80" rx="1.1" ry="1" fill="#e03010"/>
<line x1="109.81" y1="158.70" x2="109.90" y2="169.70" stroke="#9a9ac8" stroke-width="0.9" opacity="0.85"/>
<path d="M109.81,143.70 C112.61,143.70 112.28,148.50 113.11,152.50 C113.37,156.82 112.28,159.70 109.81,159.70 C107.33,159.70 106.24,156.82 106.51,152.50 C107.33,148.50 107.00,143.70 109.81,143.70 Z" fill="#3ccc70" stroke="#2a70e0" stroke-width="0.7"/>
<ellipse cx="109.81" cy="148.50" rx="1.98" ry="2.24" fill="#b8e030"/>
<rect x="106.81" y="152.02" width="6.00" height="1.92" fill="#30b8e8"/>
<ellipse cx="109.81" cy="156.50" rx="2.51" ry="1.92" fill="#a8e040"/>
<line x1="116.44" y1="158.53" x2="116.80" y2="169.53" stroke="#9a9ac8" stroke-width="0.9" opacity="0.85"/>
<path d="M116.44,143.53 C119.25,143.53 118.92,148.33 119.74,152.33 C120.01,156.65 118.92,159.53 116.44,159.53 C113.97,159.53 112.88,156.65 113.14,152.33 C113.97,148.33 113.64,143.53 116.44,143.53 Z" fill="#3ccc70" stroke="#2a70e0" stroke-width="0.7"/>
<ellipse cx="116.44" cy="148.33" rx="1.98" ry="2.24" fill="#b8e030"/>
<rect x="113.44" y="151.85" width="6.00" height="1.92" fill="#30b8e8"/>
<ellipse cx="116.44" cy="156.33" rx="2.51" ry="1.92" fill="#a8e040"/>
<ellipse cx="115.64" cy="156.33" rx="1.1" ry="1" fill="#e03010"/>
<ellipse cx="116.44" cy="148.33" rx="1.0" ry="1" fill="#e06010"/>
<line x1="127.85" y1="158.62" x2="127.92" y2="169.62" stroke="#9a9ac8" stroke-width="0.9" opacity="0.85"/>
<path d="M127.85,143.62 C130.65,143.62 130.32,148.42 131.15,152.42 C131.41,156.74 130.32,159.62 127.85,159.62 C125.37,159.62 124.28,156.74 124.55,152.42 C125.37,148.42 125.04,143.62 127.85,143.62 Z" fill="#3ccc70" stroke="#2a70e0" stroke-width="0.7"/>
<ellipse cx="127.85" cy="148.42" rx="1.98" ry="2.24" fill="#b8e030"/>
<rect x="124.85" y="151.94" width="6.00" height="1.92" fill="#30b8e8"/>
<ellipse cx="127.85" cy="156.42" rx="2.51" ry="1.92" fill="#a8e040"/>
<ellipse cx="127.05" cy="156.42" rx="1.1" ry="1" fill="#e03010"/>
<line x1="134.33" y1="158.12" x2="134.51" y2="169.12" stroke="#9a9ac8" stroke-width="0.9" opacity="0.85"/>
<path d="M134.33,143.12 C137.13,143.12 136.80,147.92 137.63,151.92 C137.89,156.24 136.80,159.12 134.33,159.12 C131.85,159.12 130.76,156.24 131.03,151.92 C131.85,147.92 131.52,143.12 134.33,143.12 Z" fill="#3ccc70" stroke="#2a70e0" stroke-width="0.7"/>
<ellipse cx="134.33" cy="147.92" rx="1.98" ry="2.24" fill="#b8e030"/>
<rect x="131.33" y="151.44" width="6.00" height="1.92" fill="#30b8e8"/>
<ellipse cx="134.33" cy="155.92" rx="2.51" ry="1.92" fill="#a8e040"/>
<ellipse cx="134.33" cy="147.92" rx="1.0" ry="1" fill="#e06010"/>
<line x1="141.08" y1="158.57" x2="141.36" y2="169.57" stroke="#9a9ac8" stroke-width="0.9" opacity="0.85"/>
<path d="M141.08,143.57 C143.88,143.57 143.55,148.37 144.38,152.37 C144.64,156.69 143.55,159.57 141.08,159.57 C138.60,159.57 137.51,156.69 137.78,152.37 C138.60,148.37 138.27,143.57 141.08,143.57 Z" fill="#3ccc70" stroke="#2a70e0" stroke-width="0.7"/>
<ellipse cx="141.08" cy="148.37" rx="1.98" ry="2.24" fill="#b8e030"/>
<rect x="138.08" y="151.89" width="6.00" height="1.92" fill="#30b8e8"/>
<ellipse cx="141.08" cy="156.37" rx="2.51" ry="1.92" fill="#a8e040"/>
<ellipse cx="140.28" cy="156.37" rx="1.1" ry="1" fill="#e03010"/>
<line x1="147.86" y1="158.12" x2="147.16" y2="169.12" stroke="#9a9ac8" stroke-width="0.9" opacity="0.85"/>
<path d="M147.86,143.12 C150.67,143.12 150.34,147.92 151.16,151.92 C151.43,156.24 150.34,159.12 147.86,159.12 C145.39,159.12 144.30,156.24 144.56,151.92 C145.39,147.92 145.06,143.12 147.86,143.12 Z" fill="#3ccc70" stroke="#2a70e0" stroke-width="0.7"/>
<ellipse cx="147.86" cy="147.92" rx="1.98" ry="2.24" fill="#b8e030"/>
<rect x="144.86" y="151.44" width="6.00" height="1.92" fill="#30b8e8"/>
<ellipse cx="147.86" cy="155.92" rx="2.51" ry="1.92" fill="#a8e040"/>
<line x1="154.29" y1="158.56" x2="154.44" y2="169.56" stroke="#9a9ac8" stroke-width="0.9" opacity="0.85"/>
<path d="M154.29,143.56 C157.10,143.56 156.77,148.36 157.59,152.36 C157.85,156.68 156.77,159.56 154.29,159.56 C151.82,159.56 150.73,156.68 150.99,152.36 C151.82,148.36 151.49,143.56 154.29,143.56 Z" fill="#3ccc70" stroke="#2a70e0" stroke-width="0.7"/>
<ellipse cx="154.29" cy="148.36" rx="1.98" ry="2.24" fill="#b8e030"/>
<rect x="151.29" y="151.88" width="6.00" height="1.92" fill="#30b8e8"/>
<ellipse cx="154.29" cy="156.36" rx="2.51" ry="1.92" fill="#a8e040"/>
<ellipse cx="153.49" cy="156.36" rx="1.1" ry="1" fill="#e03010"/>
<ellipse cx="154.29" cy="148.36" rx="1.0" ry="1" fill="#e06010"/>
<line x1="167.94" y1="158.87" x2="168.09" y2="169.87" stroke="#a0a0d0" stroke-width="0.9" opacity="0.85"/>
<path d="M166.39,145.77 Q167.94,144.27 169.49,145.77 L169.72,148.47 C170.57,150.27 171.04,154.17 171.04,157.47 Q171.04,159.87 167.94,159.87 Q164.84,159.87 164.84,157.47 C164.84,154.17 165.30,150.27 166.16,148.47 Z" fill="#ececf0"/>
<ellipse cx="167.34" cy="153.87" rx="0.5" ry="3.00" fill="#9a9aa0" opacity="0.6"/>
<line x1="174.03" y1="158.88" x2="174.47" y2="169.88" stroke="#a0a0d0" stroke-width="0.9" opacity="0.85"/>
<path d="M172.48,145.78 Q174.03,144.28 175.58,145.78 L175.81,148.48 C176.67,150.28 177.13,154.18 177.13,157.48 Q177.13,159.88 174.03,159.88 Q170.93,159.88 170.93,157.48 C170.93,154.18 171.40,150.28 172.25,148.48 Z" fill="#ececf0"/>
<ellipse cx="173.43" cy="153.88" rx="0.5" ry="3.00" fill="#9a9aa0" opacity="0.6"/>
<ellipse cx="174.03" cy="152.38" rx="2.48" ry="4.20" fill="#c8c8f0"/>
<line x1="179.97" y1="159.07" x2="180.34" y2="170.07" stroke="#a0a0d0" stroke-width="0.9" opacity="0.85"/>
<path d="M178.42,145.97 Q179.97,144.47 181.52,145.97 L181.75,148.67 C182.60,150.47 183.07,154.37 183.07,157.67 Q183.07,160.07 179.97,160.07 Q176.87,160.07 176.87,157.67 C176.87,154.37 177.33,150.47 178.18,148.67 Z" fill="#ececf0"/>
<ellipse cx="179.37" cy="154.07" rx="0.5" ry="3.00" fill="#9a9aa0" opacity="0.6"/>
<line x1="186.24" y1="158.72" x2="186.72" y2="169.72" stroke="#a0a0d0" stroke-width="0.9" opacity="0.85"/>
<path d="M184.69,145.62 Q186.24,144.12 187.79,145.62 L188.02,148.32 C188.87,150.12 189.34,154.02 189.34,157.32 Q189.34,159.72 186.24,159.72 Q183.14,159.72 183.14,157.32 C183.14,154.02 183.60,150.12 184.45,148.32 Z" fill="#ececf0"/>
<ellipse cx="185.64" cy="153.72" rx="0.5" ry="3.00" fill="#9a9aa0" opacity="0.6"/>
<ellipse cx="186.24" cy="152.22" rx="2.48" ry="4.20" fill="#b8b8ee"/>
<line x1="192.29" y1="158.69" x2="192.19" y2="169.69" stroke="#a0a0d0" stroke-width="0.9" opacity="0.85"/>
<path d="M190.74,145.59 Q192.29,144.09 193.84,145.59 L194.08,148.29 C194.93,150.09 195.39,153.99 195.39,157.29 Q195.39,159.69 192.29,159.69 Q189.19,159.69 189.19,157.29 C189.19,153.99 189.66,150.09 190.51,148.29 Z" fill="#ececf0"/>
<ellipse cx="191.69" cy="153.69" rx="0.5" ry="3.00" fill="#9a9aa0" opacity="0.6"/>
<ellipse cx="192.29" cy="152.19" rx="2.48" ry="4.20" fill="#a8a8e8"/>
<line x1="51.80" y1="195.40" x2="51.51" y2="207.40" stroke="#80c8f0" stroke-width="0.9" opacity="0.85"/>
<path d="M51.80,182.40 C54.60,182.40 54.27,186.60 55.10,190.10 C55.36,193.88 54.27,196.40 51.80,196.40 C49.32,196.40 48.23,193.88 48.50,190.10 C49.32,186.60 48.99,182.40 51.80,182.40 Z" fill="#70e070" stroke="#40c8d8" stroke-width="1.1"/>
<ellipse cx="51.80" cy="188.28" rx="2.77" ry="3.08" fill="#e8e040"/>
<ellipse cx="51.80" cy="187.02" rx="2.38" ry="2.66" fill="#ec1a10"/>
<ellipse cx="51.80" cy="194.16" rx="3.43" ry="1.96" fill="#ec2010"/>
<line x1="57.74" y1="196.13" x2="57.64" y2="208.13" stroke="#80c8f0" stroke-width="0.9" opacity="0.85"/>
<path d="M57.74,183.13 C60.55,183.13 60.22,187.33 61.04,190.83 C61.30,194.61 60.22,197.13 57.74,197.13 C55.27,197.13 54.18,194.61 54.44,190.83 C55.27,187.33 54.94,183.13 57.74,183.13 Z" fill="#70e070" stroke="#40c8d8" stroke-width="1.1"/>
<ellipse cx="57.74" cy="189.01" rx="2.77" ry="3.08" fill="#e8e040"/>
<ellipse cx="57.74" cy="187.75" rx="2.38" ry="2.66" fill="#ec1a10"/>
<ellipse cx="57.74" cy="194.89" rx="3.43" ry="1.96" fill="#ec2010"/>
<line x1="64.21" y1="195.47" x2="63.95" y2="207.47" stroke="#80c8f0" stroke-width="0.9" opacity="0.85"/>
<path d="M64.21,182.47 C67.02,182.47 66.69,186.67 67.51,190.17 C67.78,193.95 66.69,196.47 64.21,196.47 C61.74,196.47 60.65,193.95 60.91,190.17 C61.74,186.67 61.41,182.47 64.21,182.47 Z" fill="#70e070" stroke="#40c8d8" stroke-width="1.1"/>
<ellipse cx="64.21" cy="188.35" rx="2.77" ry="3.08" fill="#e8e040"/>
<ellipse cx="64.21" cy="187.09" rx="2.38" ry="2.66" fill="#ec1a10"/>
<ellipse cx="64.21" cy="194.23" rx="3.43" ry="1.96" fill="#ec2010"/>
<line x1="70.25" y1="196.18" x2="70.17" y2="208.18" stroke="#80c8f0" stroke-width="0.9" opacity="0.85"/>
<path d="M70.25,183.18 C73.06,183.18 72.73,187.38 73.55,190.88 C73.81,194.66 72.73,197.18 70.25,197.18 C67.78,197.18 66.69,194.66 66.95,190.88 C67.78,187.38 67.45,183.18 70.25,183.18 Z" fill="#70e070" stroke="#40c8d8" stroke-width="1.1"/>
<ellipse cx="70.25" cy="189.06" rx="2.77" ry="3.08" fill="#e8e040"/>
<ellipse cx="70.25" cy="187.80" rx="2.38" ry="2.66" fill="#ec1a10"/>
<ellipse cx="70.25" cy="194.94" rx="3.43" ry="1.96" fill="#ec2010"/>
<line x1="76.16" y1="195.42" x2="76.20" y2="207.42" stroke="#80c8f0" stroke-width="0.9" opacity="0.85"/>
<path d="M76.16,182.42 C78.96,182.42 78.63,186.62 79.46,190.12 C79.72,193.90 78.63,196.42 76.16,196.42 C73.68,196.42 72.59,193.90 72.86,190.12 C73.68,186.62 73.35,182.42 76.16,182.42 Z" fill="#70e070" stroke="#40c8d8" stroke-width="1.1"/>
<ellipse cx="76.16" cy="188.30" rx="2.77" ry="3.08" fill="#e8e040"/>
<ellipse cx="76.16" cy="187.04" rx="2.38" ry="2.66" fill="#ec1a10"/>
<ellipse cx="76.16" cy="194.18" rx="3.43" ry="1.96" fill="#ec2010"/>
<line x1="89.49" y1="196.11" x2="90.04" y2="208.11" stroke="#80c8f0" stroke-width="0.9" opacity="0.85"/>
<path d="M89.49,183.11 C92.30,183.11 91.97,187.31 92.79,190.81 C93.06,194.59 91.97,197.11 89.49,197.11 C87.02,197.11 85.93,194.59 86.19,190.81 C87.02,187.31 86.69,183.11 89.49,183.11 Z" fill="#70e070" stroke="#40c8d8" stroke-width="1.1"/>
<ellipse cx="89.49" cy="188.99" rx="2.77" ry="3.08" fill="#e8e040"/>
<ellipse cx="89.49" cy="187.73" rx="2.38" ry="2.66" fill="#ec1a10"/>
<ellipse cx="89.49" cy="194.87" rx="3.43" ry="1.96" fill="#ec2010"/>
<line x1="95.65" y1="195.58" x2="96.14" y2="207.58" stroke="#80c8f0" stroke-width="0.9" opacity="0.85"/>
<path d="M95.65,182.58 C98.46,182.58 98.13,186.78 98.95,190.28 C99.21,194.06 98.13,196.58 95.65,196.58 C93.18,196.58 92.09,194.06 92.35,190.28 C93.18,186.78 92.85,182.58 95.65,182.58 Z" fill="#70e070" stroke="#40c8d8" stroke-width="1.1"/>
<ellipse cx="95.65" cy="188.46" rx="2.77" ry="3.08" fill="#e8e040"/>
<ellipse cx="95.65" cy="187.20" rx="2.38" ry="2.66" fill="#ec1a10"/>
<ellipse cx="95.65" cy="194.34" rx="3.43" ry="1.96" fill="#ec2010"/>
<line x1="102.09" y1="196.11" x2="101.84" y2="208.11" stroke="#80c8f0" stroke-width="0.9" opacity="0.85"/>
<path d="M102.09,183.11 C104.89,183.11 104.56,187.31 105.39,190.81 C105.65,194.59 104.56,197.11 102.09,197.11 C99.61,197.11 98.52,194.59 98.79,190.81 C99.61,187.31 99.28,183.11 102.09,183.11 Z" fill="#70e070" stroke="#40c8d8" stroke-width="1.1"/>
<ellipse cx="102.09" cy="188.99" rx="2.77" ry="3.08" fill="#e8e040"/>
<ellipse cx="102.09" cy="187.73" rx="2.38" ry="2.66" fill="#ec1a10"/>
<ellipse cx="102.09" cy="194.87" rx="3.43" ry="1.96" fill="#ec2010"/>
<line x1="107.94" y1="195.59" x2="108.41" y2="207.59" stroke="#80c8f0" stroke-width="0.9" opacity="0.85"/>
<path d="M107.94,182.59 C110.74,182.59 110.41,186.79 111.24,190.29 C111.50,194.07 110.41,196.59 107.94,196.59 C105.46,196.59 104.37,194.07 104.64,190.29 C105.46,186.79 105.13,182.59 107.94,182.59 Z" fill="#70e070" stroke="#40c8d8" stroke-width="1.1"/>
<ellipse cx="107.94" cy="188.47" rx="2.77" ry="3.08" fill="#e8e040"/>
<ellipse cx="107.94" cy="187.21" rx="2.38" ry="2.66" fill="#ec1a10"/>
<ellipse cx="107.94" cy="194.35" rx="3.43" ry="1.96" fill="#ec2010"/>
<line x1="114.18" y1="195.65" x2="114.05" y2="207.65" stroke="#80c8f0" stroke-width="0.9" opacity="0.85"/>
<path d="M114.18,182.65 C116.99,182.65 116.66,186.85 117.48,190.35 C117.75,194.13 116.66,196.65 114.18,196.65 C111.71,196.65 110.62,194.13 110.88,190.35 C111.71,186.85 111.38,182.65 114.18,182.65 Z" fill="#70e070" stroke="#40c8d8" stroke-width="1.1"/>
<ellipse cx="114.18" cy="188.53" rx="2.77" ry="3.08" fill="#e8e040"/>
<ellipse cx="114.18" cy="187.27" rx="2.38" ry="2.66" fill="#ec1a10"/>
<ellipse cx="114.18" cy="194.41" rx="3.43" ry="1.96" fill="#ec2010"/>
<line x1="127.63" y1="195.71" x2="128.30" y2="207.71" stroke="#80c8f0" stroke-width="0.9" opacity="0.85"/>
<path d="M127.63,182.71 C130.44,182.71 130.11,186.91 130.93,190.41 C131.20,194.19 130.11,196.71 127.63,196.71 C125.16,196.71 124.07,194.19 124.33,190.41 C125.16,186.91 124.83,182.71 127.63,182.71 Z" fill="#70e070" stroke="#40c8d8" stroke-width="1.1"/>
<ellipse cx="127.63" cy="188.59" rx="2.77" ry="3.08" fill="#e8e040"/>
<ellipse cx="127.63" cy="187.33" rx="2.38" ry="2.66" fill="#ec1a10"/>
<ellipse cx="127.63" cy="194.47" rx="3.43" ry="1.96" fill="#ec2010"/>
<line x1="133.63" y1="195.30" x2="134.34" y2="207.30" stroke="#80c8f0" stroke-width="0.9" opacity="0.85"/>
<path d="M133.63,182.30 C136.44,182.30 136.11,186.50 136.93,190.00 C137.20,193.78 136.11,196.30 133.63,196.30 C131.16,196.30 130.07,193.78 130.33,190.00 C131.16,186.50 130.83,182.30 133.63,182.30 Z" fill="#70e070" stroke="#40c8d8" stroke-width="1.1"/>
<ellipse cx="133.63" cy="188.18" rx="2.77" ry="3.08" fill="#e8e040"/>
<ellipse cx="133.63" cy="186.92" rx="2.38" ry="2.66" fill="#ec1a10"/>
<ellipse cx="133.63" cy="194.06" rx="3.43" ry="1.96" fill="#ec2010"/>
<line x1="140.23" y1="196.29" x2="140.12" y2="208.29" stroke="#80c8f0" stroke-width="0.9" opacity="0.85"/>
<path d="M140.23,183.29 C143.03,183.29 142.70,187.49 143.53,190.99 C143.79,194.77 142.70,197.29 140.23,197.29 C137.75,197.29 136.66,194.77 136.93,190.99 C137.75,187.49 137.42,183.29 140.23,183.29 Z" fill="#70e070" stroke="#40c8d8" stroke-width="1.1"/>
<ellipse cx="140.23" cy="189.17" rx="2.77" ry="3.08" fill="#e8e040"/>
<ellipse cx="140.23" cy="187.91" rx="2.38" ry="2.66" fill="#ec1a10"/>
<ellipse cx="140.23" cy="195.05" rx="3.43" ry="1.96" fill="#ec2010"/>
<line x1="146.43" y1="196.23" x2="145.99" y2="208.23" stroke="#80c8f0" stroke-width="0.9" opacity="0.85"/>
<path d="M146.43,183.23 C149.24,183.23 148.91,187.43 149.73,190.93 C149.99,194.71 148.91,197.23 146.43,197.23 C143.96,197.23 142.87,194.71 143.13,190.93 C143.96,187.43 143.63,183.23 146.43,183.23 Z" fill="#70e070" stroke="#40c8d8" stroke-width="1.1"/>
<ellipse cx="146.43" cy="189.11" rx="2.77" ry="3.08" fill="#e8e040"/>
<ellipse cx="146.43" cy="187.85" rx="2.38" ry="2.66" fill="#ec1a10"/>
<ellipse cx="146.43" cy="194.99" rx="3.43" ry="1.96" fill="#ec2010"/>
<line x1="152.47" y1="196.14" x2="152.73" y2="208.14" stroke="#80c8f0" stroke-width="0.9" opacity="0.85"/>
<path d="M152.47,183.14 C155.27,183.14 154.94,187.34 155.77,190.84 C156.03,194.62 154.94,197.14 152.47,197.14 C149.99,197.14 148.90,194.62 149.17,190.84 C149.99,187.34 149.66,183.14 152.47,183.14 Z" fill="#70e070" stroke="#40c8d8" stroke-width="1.1"/>
<ellipse cx="152.47" cy="189.02" rx="2.77" ry="3.08" fill="#e8e040"/>
<ellipse cx="152.47" cy="187.76" rx="2.38" ry="2.66" fill="#ec1a10"/>
<ellipse cx="152.47" cy="194.90" rx="3.43" ry="1.96" fill="#ec2010"/>
<line x1="165.96" y1="195.39" x2="165.71" y2="207.39" stroke="#a0a8e0" stroke-width="0.9" opacity="0.85"/>
<path d="M164.56,184.29 Q165.96,182.79 167.36,184.29 L167.57,186.51 C168.34,188.07 168.76,191.45 168.76,194.31 Q168.76,196.39 165.96,196.39 Q163.16,196.39 163.16,194.31 C163.16,191.45 163.58,188.07 164.35,186.51 Z" fill="#b4b4e6"/>
<ellipse cx="165.96" cy="191.19" rx="1.68" ry="3.25" fill="#dcdcf8"/>
<line x1="171.69" y1="195.17" x2="171.83" y2="207.17" stroke="#a0a8e0" stroke-width="0.9" opacity="0.85"/>
<path d="M170.29,184.07 Q171.69,182.57 173.09,184.07 L173.30,186.29 C174.07,187.85 174.49,191.23 174.49,194.09 Q174.49,196.17 171.69,196.17 Q168.88,196.17 168.88,194.09 C168.88,191.23 169.30,187.85 170.08,186.29 Z" fill="#b4b4e6"/>
<ellipse cx="171.69" cy="190.97" rx="1.68" ry="3.25" fill="#dcdcf8"/>
<line x1="177.62" y1="195.91" x2="176.89" y2="207.91" stroke="#a0a8e0" stroke-width="0.9" opacity="0.85"/>
<path d="M176.22,184.81 Q177.62,183.31 179.02,184.81 L179.23,187.03 C180.00,188.59 180.42,191.97 180.42,194.83 Q180.42,196.91 177.62,196.91 Q174.82,196.91 174.82,194.83 C174.82,191.97 175.24,188.59 176.01,187.03 Z" fill="#b4b4e6"/>
<ellipse cx="177.62" cy="191.71" rx="1.68" ry="3.25" fill="#dcdcf8"/>
<line x1="183.89" y1="195.79" x2="184.57" y2="207.79" stroke="#a0a8e0" stroke-width="0.9" opacity="0.85"/>
<path d="M182.49,184.69 Q183.89,183.19 185.29,184.69 L185.50,186.91 C186.27,188.47 186.69,191.85 186.69,194.71 Q186.69,196.79 183.89,196.79 Q181.09,196.79 181.09,194.71 C181.09,191.85 181.51,188.47 182.28,186.91 Z" fill="#b4b4e6"/>
<ellipse cx="183.89" cy="191.59" rx="1.68" ry="3.25" fill="#dcdcf8"/>
<line x1="189.79" y1="196.00" x2="189.91" y2="208.00" stroke="#a0a8e0" stroke-width="0.9" opacity="0.85"/>
<path d="M188.39,184.90 Q189.79,183.40 191.19,184.90 L191.40,187.12 C192.17,188.68 192.59,192.06 192.59,194.92 Q192.59,197.00 189.79,197.00 Q186.99,197.00 186.99,194.92 C186.99,192.06 187.41,188.68 188.18,187.12 Z" fill="#b4b4e6"/>
<ellipse cx="189.79" cy="191.80" rx="1.68" ry="3.25" fill="#dcdcf8"/>
<line x1="52.33" y1="235.75" x2="51.80" y2="247.75" stroke="#70d8f0" stroke-width="0.9" opacity="0.85"/>
<path d="M52.33,222.25 C55.13,222.25 54.80,226.60 55.63,230.22 C55.89,234.14 54.80,236.75 52.33,236.75 C49.85,236.75 48.76,234.14 49.03,230.22 C49.85,226.60 49.52,222.25 52.33,222.25 Z" fill="#60e090" stroke="#50d8b0" stroke-width="1.5"/>
<path d="M52.33,222.25 C55.13,222.25 54.80,226.60 55.63,230.22 C55.89,234.14 54.80,236.75 52.33,236.75 C49.85,236.75 48.76,234.14 49.03,230.22 C49.85,226.60 49.52,222.25 52.33,222.25 Z" fill="#ec1a10"/>
<ellipse cx="52.01" cy="231.17" rx="1.85" ry="1.3" fill="#f0d020"/>
<line x1="58.67" y1="235.41" x2="59.38" y2="247.41" stroke="#70d8f0" stroke-width="0.9" opacity="0.85"/>
<path d="M58.67,221.91 C61.48,221.91 61.15,226.26 61.97,229.89 C62.24,233.80 61.15,236.41 58.67,236.41 C56.20,236.41 55.11,233.80 55.37,229.89 C56.20,226.26 55.87,221.91 58.67,221.91 Z" fill="#60e090" stroke="#50d8b0" stroke-width="1.5"/>
<path d="M58.67,221.91 C61.48,221.91 61.15,226.26 61.97,229.89 C62.24,233.80 61.15,236.41 58.67,236.41 C56.20,236.41 55.11,233.80 55.37,229.89 C56.20,226.26 55.87,221.91 58.67,221.91 Z" fill="#ec1a10"/>
<ellipse cx="58.85" cy="229.68" rx="1.85" ry="1.3" fill="#f0d020"/>
<line x1="64.55" y1="235.86" x2="64.52" y2="247.86" stroke="#70d8f0" stroke-width="0.9" opacity="0.85"/>
<path d="M64.55,222.36 C67.36,222.36 67.03,226.71 67.85,230.34 C68.12,234.25 67.03,236.86 64.55,236.86 C62.08,236.86 60.99,234.25 61.25,230.34 C62.08,226.71 61.75,222.36 64.55,222.36 Z" fill="#60e090" stroke="#50d8b0" stroke-width="1.5"/>
<path d="M64.55,222.36 C67.36,222.36 67.03,226.71 67.85,230.34 C68.12,234.25 67.03,236.86 64.55,236.86 C62.08,236.86 60.99,234.25 61.25,230.34 C62.08,226.71 61.75,222.36 64.55,222.36 Z" fill="#ec1a10"/>
<ellipse cx="65.00" cy="230.16" rx="1.85" ry="1.3" fill="#f0d020"/>
<line x1="70.56" y1="235.53" x2="71.07" y2="247.53" stroke="#70d8f0" stroke-width="0.9" opacity="0.85"/>
<path d="M70.56,222.03 C73.36,222.03 73.03,226.38 73.86,230.01 C74.12,233.92 73.03,236.53 70.56,236.53 C68.08,236.53 66.99,233.92 67.26,230.01 C68.08,226.38 67.75,222.03 70.56,222.03 Z" fill="#60e090" stroke="#50d8b0" stroke-width="1.5"/>
<path d="M70.56,222.03 C73.36,222.03 73.03,226.38 73.86,230.01 C74.12,233.92 73.03,236.53 70.56,236.53 C68.08,236.53 66.99,233.92 67.26,230.01 C68.08,226.38 67.75,222.03 70.56,222.03 Z" fill="#ec1a10"/>
<ellipse cx="70.03" cy="231.43" rx="1.85" ry="1.3" fill="#f0d020"/>
<line x1="77.03" y1="235.81" x2="77.55" y2="247.81" stroke="#70d8f0" stroke-width="0.9" opacity="0.85"/>
<path d="M77.03,222.31 C79.84,222.31 79.51,226.66 80.33,230.28 C80.60,234.20 79.51,236.81 77.03,236.81 C74.56,236.81 73.47,234.20 73.73,230.28 C74.56,226.66 74.23,222.31 77.03,222.31 Z" fill="#60e090" stroke="#50d8b0" stroke-width="1.5"/>
<path d="M77.03,222.31 C79.84,222.31 79.51,226.66 80.33,230.28 C80.60,234.20 79.51,236.81 77.03,236.81 C74.56,236.81 73.47,234.20 73.73,230.28 C74.56,226.66 74.23,222.31 77.03,222.31 Z" fill="#ec1a10"/>
<ellipse cx="76.25" cy="231.11" rx="1.85" ry="1.3" fill="#f0d020"/>
<line x1="90.84" y1="235.05" x2="90.47" y2="247.05" stroke="#70d8f0" stroke-width="0.9" opacity="0.85"/>
<path d="M90.84,221.55 C93.64,221.55 93.31,225.90 94.14,229.52 C94.40,233.44 93.31,236.05 90.84,236.05 C88.36,236.05 87.27,233.44 87.54,229.52 C88.36,225.90 88.03,221.55 90.84,221.55 Z" fill="#60e090" stroke="#50d8b0" stroke-width="1.5"/>
<path d="M90.84,221.55 C93.64,221.55 93.31,225.90 94.14,229.52 C94.40,233.44 93.31,236.05 90.84,236.05 C88.36,236.05 87.27,233.44 87.54,229.52 C88.36,225.90 88.03,221.55 90.84,221.55 Z" fill="#ec1a10"/>
<ellipse cx="90.47" cy="229.99" rx="1.85" ry="1.3" fill="#f0d020"/>
<line x1="96.61" y1="235.47" x2="97.06" y2="247.47" stroke="#70d8f0" stroke-width="0.9" opacity="0.85"/>
<path d="M96.61,221.97 C99.42,221.97 99.09,226.32 99.91,229.95 C100.18,233.86 99.09,236.47 96.61,236.47 C94.14,236.47 93.05,233.86 93.31,229.95 C94.14,226.32 93.81,221.97 96.61,221.97 Z" fill="#60e090" stroke="#50d8b0" stroke-width="1.5"/>
<path d="M96.61,221.97 C99.42,221.97 99.09,226.32 99.91,229.95 C100.18,233.86 99.09,236.47 96.61,236.47 C94.14,236.47 93.05,233.86 93.31,229.95 C94.14,226.32 93.81,221.97 96.61,221.97 Z" fill="#ec1a10"/>
<ellipse cx="95.82" cy="228.70" rx="1.85" ry="1.3" fill="#f0d020"/>
<line x1="102.48" y1="235.12" x2="101.79" y2="247.12" stroke="#70d8f0" stroke-width="0.9" opacity="0.85"/>
<path d="M102.48,221.62 C105.28,221.62 104.95,225.97 105.78,229.60 C106.04,233.51 104.95,236.12 102.48,236.12 C100.00,236.12 98.91,233.51 99.18,229.60 C100.00,225.97 99.67,221.62 102.48,221.62 Z" fill="#60e090" stroke="#50d8b0" stroke-width="1.5"/>
<path d="M102.48,221.62 C105.28,221.62 104.95,225.97 105.78,229.60 C106.04,233.51 104.95,236.12 102.48,236.12 C100.00,236.12 98.91,233.51 99.18,229.60 C100.00,225.97 99.67,221.62 102.48,221.62 Z" fill="#ec1a10"/>
<ellipse cx="103.24" cy="231.25" rx="1.85" ry="1.3" fill="#f0d020"/>
<line x1="108.49" y1="235.50" x2="108.20" y2="247.50" stroke="#70d8f0" stroke-width="0.9" opacity="0.85"/>
<path d="M108.49,222.00 C111.30,222.00 110.97,226.35 111.79,229.98 C112.06,233.89 110.97,236.50 108.49,236.50 C106.02,236.50 104.93,233.89 105.19,229.98 C106.02,226.35 105.69,222.00 108.49,222.00 Z" fill="#60e090" stroke="#50d8b0" stroke-width="1.5"/>
<path d="M108.49,222.00 C111.30,222.00 110.97,226.35 111.79,229.98 C112.06,233.89 110.97,236.50 108.49,236.50 C106.02,236.50 104.93,233.89 105.19,229.98 C106.02,226.35 105.69,222.00 108.49,222.00 Z" fill="#ec1a10"/>
<ellipse cx="108.20" cy="229.80" rx="1.85" ry="1.3" fill="#f0d020"/>
<line x1="114.87" y1="235.59" x2="114.65" y2="247.59" stroke="#70d8f0" stroke-width="0.9" opacity="0.85"/>
<path d="M114.87,222.09 C117.67,222.09 117.34,226.44 118.17,230.06 C118.43,233.98 117.34,236.59 114.87,236.59 C112.39,236.59 111.30,233.98 111.57,230.06 C112.39,226.44 112.06,222.09 114.87,222.09 Z" fill="#60e090" stroke="#50d8b0" stroke-width="1.5"/>
<path d="M114.87,222.09 C117.67,222.09 117.34,226.44 118.17,230.06 C118.43,233.98 117.34,236.59 114.87,236.59 C112.39,236.59 111.30,233.98 111.57,230.06 C112.39,226.44 112.06,222.09 114.87,222.09 Z" fill="#ec1a10"/>
<ellipse cx="114.37" cy="229.80" rx="1.85" ry="1.3" fill="#f0d020"/>
<line x1="128.39" y1="235.56" x2="128.74" y2="247.56" stroke="#70d8f0" stroke-width="0.9" opacity="0.85"/>
<path d="M128.39,222.06 C131.20,222.06 130.87,226.41 131.69,230.03 C131.96,233.95 130.87,236.56 128.39,236.56 C125.92,236.56 124.83,233.95 125.09,230.03 C125.92,226.41 125.59,222.06 128.39,222.06 Z" fill="#60e090" stroke="#50d8b0" stroke-width="1.5"/>
<path d="M128.39,222.06 C131.20,222.06 130.87,226.41 131.69,230.03 C131.96,233.95 130.87,236.56 128.39,236.56 C125.92,236.56 124.83,233.95 125.09,230.03 C125.92,226.41 125.59,222.06 128.39,222.06 Z" fill="#ec1a10"/>
<ellipse cx="128.20" cy="228.87" rx="1.85" ry="1.3" fill="#f0d020"/>
<line x1="134.47" y1="235.37" x2="134.63" y2="247.37" stroke="#70d8f0" stroke-width="0.9" opacity="0.85"/>
<path d="M134.47,221.87 C137.27,221.87 136.94,226.22 137.77,229.85 C138.03,233.76 136.94,236.37 134.47,236.37 C131.99,236.37 130.90,233.76 131.17,229.85 C131.99,226.22 131.66,221.87 134.47,221.87 Z" fill="#60e090" stroke="#50d8b0" stroke-width="1.5"/>
<path d="M134.47,221.87 C137.27,221.87 136.94,226.22 137.77,229.85 C138.03,233.76 136.94,236.37 134.47,236.37 C131.99,236.37 130.90,233.76 131.17,229.85 C131.99,226.22 131.66,221.87 134.47,221.87 Z" fill="#ec1a10"/>
<ellipse cx="134.92" cy="229.78" rx="1.85" ry="1.3" fill="#f0d020"/>
<line x1="140.88" y1="235.62" x2="140.77" y2="247.62" stroke="#70d8f0" stroke-width="0.9" opacity="0.85"/>
<path d="M140.88,222.12 C143.69,222.12 143.36,226.47 144.18,230.10 C144.44,234.01 143.36,236.62 140.88,236.62 C138.41,236.62 137.32,234.01 137.58,230.10 C138.41,226.47 138.08,222.12 140.88,222.12 Z" fill="#60e090" stroke="#50d8b0" stroke-width="1.5"/>
<path d="M140.88,222.12 C143.69,222.12 143.36,226.47 144.18,230.10 C144.44,234.01 143.36,236.62 140.88,236.62 C138.41,236.62 137.32,234.01 137.58,230.10 C138.41,226.47 138.08,222.12 140.88,222.12 Z" fill="#ec1a10"/>
<ellipse cx="140.68" cy="230.45" rx="1.85" ry="1.3" fill="#f0d020"/>
<line x1="146.86" y1="235.42" x2="147.17" y2="247.42" stroke="#70d8f0" stroke-width="0.9" opacity="0.85"/>
<path d="M146.86,221.92 C149.67,221.92 149.34,226.27 150.16,229.90 C150.43,233.81 149.34,236.42 146.86,236.42 C144.39,236.42 143.30,233.81 143.56,229.90 C144.39,226.27 144.06,221.92 146.86,221.92 Z" fill="#60e090" stroke="#50d8b0" stroke-width="1.5"/>
<path d="M146.86,221.92 C149.67,221.92 149.34,226.27 150.16,229.90 C150.43,233.81 149.34,236.42 146.86,236.42 C144.39,236.42 143.30,233.81 143.56,229.90 C144.39,226.27 144.06,221.92 146.86,221.92 Z" fill="#ec1a10"/>
<ellipse cx="146.80" cy="229.33" rx="1.85" ry="1.3" fill="#f0d020"/>
<line x1="152.80" y1="235.20" x2="152.12" y2="247.20" stroke="#70d8f0" stroke-width="0.9" opacity="0.85"/>
<path d="M152.80,224.20 C155.14,224.20 154.86,227.80 155.55,230.80 C155.77,234.04 154.86,236.20 152.80,236.20 C150.74,236.20 149.83,234.04 150.05,230.80 C150.74,227.80 150.46,224.20 152.80,224.20 Z" fill="#40d8c0" stroke="#40c8d0" stroke-width="1.0"/>
<ellipse cx="152.80" cy="229.60" rx="1.65" ry="3.00" fill="#a0e040"/>
<line x1="165.90" y1="235.43" x2="166.51" y2="247.43" stroke="#a0b0e0" stroke-width="0.9" opacity="0.85"/>
<path d="M164.50,223.83 Q165.90,222.33 167.31,223.83 L167.52,226.17 C168.29,227.79 168.71,231.30 168.71,234.27 Q168.71,236.43 165.90,236.43 Q163.10,236.43 163.10,234.27 C163.10,231.30 163.52,227.79 164.29,226.17 Z" fill="#b4b4e6"/>
<ellipse cx="165.90" cy="231.03" rx="1.68" ry="3.38" fill="#dcdcf8"/>
<line x1="178.01" y1="235.37" x2="178.65" y2="247.37" stroke="#a0b0e0" stroke-width="0.9" opacity="0.85"/>
<path d="M176.61,223.77 Q178.01,222.27 179.41,223.77 L179.62,226.11 C180.39,227.73 180.81,231.24 180.81,234.21 Q180.81,236.37 178.01,236.37 Q175.21,236.37 175.21,234.21 C175.21,231.24 175.63,227.73 176.40,226.11 Z" fill="#b4b4e6"/>
<ellipse cx="178.01" cy="230.97" rx="1.68" ry="3.38" fill="#dcdcf8"/>
<line x1="183.82" y1="235.26" x2="183.77" y2="247.26" stroke="#a0b0e0" stroke-width="0.9" opacity="0.85"/>
<path d="M182.42,223.66 Q183.82,222.16 185.23,223.66 L185.44,226.00 C186.21,227.62 186.63,231.13 186.63,234.10 Q186.63,236.26 183.82,236.26 Q181.02,236.26 181.02,234.10 C181.02,231.13 181.44,227.62 182.21,226.00 Z" fill="#b4b4e6"/>
<ellipse cx="183.82" cy="230.86" rx="1.68" ry="3.38" fill="#dcdcf8"/>
<line x1="189.32" y1="235.81" x2="189.58" y2="247.81" stroke="#a0b0e0" stroke-width="0.9" opacity="0.85"/>
<path d="M187.92,224.21 Q189.32,222.71 190.73,224.21 L190.94,226.55 C191.71,228.17 192.13,231.68 192.13,234.65 Q192.13,236.81 189.32,236.81 Q186.52,236.81 186.52,234.65 C186.52,231.68 186.94,228.17 187.71,226.55 Z" fill="#b4b4e6"/>
<ellipse cx="189.32" cy="231.41" rx="1.68" ry="3.38" fill="#dcdcf8"/>
<line x1="203.38" y1="122.19" x2="203.65" y2="135.19" stroke="#808080" stroke-width="0.9" opacity="0.85"/>
<path d="M201.78,110.09 Q203.38,108.59 204.98,110.09 L205.22,112.55 C206.10,114.23 206.58,117.87 206.58,120.95 Q206.58,123.19 203.38,123.19 Q200.18,123.19 200.18,120.95 C200.18,117.87 200.66,114.23 201.54,112.55 Z" fill="#ececee"/>
<ellipse cx="202.58" cy="117.87" rx="0.7" ry="2.52" fill="#9a9aa0" opacity="0.55"/>
<ellipse cx="204.38" cy="114.79" rx="0.6" ry="1.40" fill="#a0a0a6" opacity="0.5"/>
<line x1="209.59" y1="121.96" x2="208.96" y2="134.96" stroke="#808080" stroke-width="0.9" opacity="0.85"/>
<path d="M207.99,109.86 Q209.59,108.36 211.19,109.86 L211.43,112.32 C212.31,114.00 212.79,117.64 212.79,120.72 Q212.79,122.96 209.59,122.96 Q206.39,122.96 206.39,120.72 C206.39,117.64 206.87,114.00 207.75,112.32 Z" fill="#ececee"/>
<ellipse cx="208.79" cy="117.64" rx="0.7" ry="2.52" fill="#9a9aa0" opacity="0.55"/>
<ellipse cx="210.59" cy="114.56" rx="0.6" ry="1.40" fill="#a0a0a6" opacity="0.5"/>
<ellipse cx="209.59" cy="115.96" rx="2.56" ry="3.92" fill="#6070d0"/>
<line x1="215.80" y1="121.40" x2="215.23" y2="134.40" stroke="#808080" stroke-width="0.9" opacity="0.85"/>
<path d="M214.20,109.30 Q215.80,107.80 217.40,109.30 L217.64,111.76 C218.52,113.44 219.00,117.08 219.00,120.16 Q219.00,122.40 215.80,122.40 Q212.60,122.40 212.60,120.16 C212.60,117.08 213.08,113.44 213.96,111.76 Z" fill="#ececee"/>
<ellipse cx="215.00" cy="117.08" rx="0.7" ry="2.52" fill="#9a9aa0" opacity="0.55"/>
<ellipse cx="216.80" cy="114.00" rx="0.6" ry="1.40" fill="#a0a0a6" opacity="0.5"/>
<ellipse cx="215.80" cy="115.40" rx="2.56" ry="3.92" fill="#2040d0"/>
<line x1="222.21" y1="121.44" x2="221.56" y2="134.44" stroke="#808080" stroke-width="0.9" opacity="0.85"/>
<path d="M220.61,109.34 Q222.21,107.84 223.81,109.34 L224.05,111.80 C224.93,113.48 225.41,117.12 225.41,120.20 Q225.41,122.44 222.21,122.44 Q219.01,122.44 219.01,120.20 C219.01,117.12 219.49,113.48 220.37,111.80 Z" fill="#ececee"/>
<ellipse cx="221.41" cy="117.12" rx="0.7" ry="2.52" fill="#9a9aa0" opacity="0.55"/>
<ellipse cx="223.21" cy="114.04" rx="0.6" ry="1.40" fill="#a0a0a6" opacity="0.5"/>
<line x1="228.11" y1="122.28" x2="227.60" y2="135.28" stroke="#808080" stroke-width="0.9" opacity="0.85"/>
<path d="M226.51,110.18 Q228.11,108.68 229.71,110.18 L229.95,112.64 C230.83,114.32 231.31,117.96 231.31,121.04 Q231.31,123.28 228.11,123.28 Q224.91,123.28 224.91,121.04 C224.91,117.96 225.39,114.32 226.27,112.64 Z" fill="#ececee"/>
<ellipse cx="227.31" cy="117.96" rx="0.7" ry="2.52" fill="#9a9aa0" opacity="0.55"/>
<ellipse cx="229.11" cy="114.88" rx="0.6" ry="1.40" fill="#a0a0a6" opacity="0.5"/>
<line x1="202.86" y1="157.84" x2="202.26" y2="170.84" stroke="#808080" stroke-width="0.9" opacity="0.85"/>
<path d="M201.26,144.74 Q202.86,143.24 204.46,144.74 L204.70,147.44 C205.58,149.24 206.06,153.14 206.06,156.44 Q206.06,158.84 202.86,158.84 Q199.66,158.84 199.66,156.44 C199.66,153.14 200.14,149.24 201.02,147.44 Z" fill="#ececee"/>
<ellipse cx="202.06" cy="153.14" rx="0.7" ry="2.70" fill="#9a9aa0" opacity="0.55"/>
<ellipse cx="203.86" cy="149.84" rx="0.6" ry="1.50" fill="#a0a0a6" opacity="0.5"/>
<line x1="209.66" y1="157.67" x2="210.19" y2="170.67" stroke="#808080" stroke-width="0.9" opacity="0.85"/>
<path d="M208.06,144.57 Q209.66,143.07 211.26,144.57 L211.50,147.27 C212.38,149.07 212.86,152.97 212.86,156.27 Q212.86,158.67 209.66,158.67 Q206.46,158.67 206.46,156.27 C206.46,152.97 206.94,149.07 207.82,147.27 Z" fill="#ececee"/>
<ellipse cx="208.86" cy="152.97" rx="0.7" ry="2.70" fill="#9a9aa0" opacity="0.55"/>
<ellipse cx="210.66" cy="149.67" rx="0.6" ry="1.50" fill="#a0a0a6" opacity="0.5"/>
<line x1="216.02" y1="157.58" x2="216.50" y2="170.58" stroke="#808080" stroke-width="0.9" opacity="0.85"/>
<path d="M214.42,144.48 Q216.02,142.98 217.62,144.48 L217.86,147.18 C218.74,148.98 219.22,152.88 219.22,156.18 Q219.22,158.58 216.02,158.58 Q212.82,158.58 212.82,156.18 C212.82,152.88 213.30,148.98 214.18,147.18 Z" fill="#ececee"/>
<ellipse cx="215.22" cy="152.88" rx="0.7" ry="2.70" fill="#9a9aa0" opacity="0.55"/>
<ellipse cx="217.02" cy="149.58" rx="0.6" ry="1.50" fill="#a0a0a6" opacity="0.5"/>
<ellipse cx="216.02" cy="151.08" rx="2.56" ry="4.20" fill="#8080d0"/>
<line x1="221.77" y1="157.77" x2="221.79" y2="170.77" stroke="#808080" stroke-width="0.9" opacity="0.85"/>
<path d="M220.17,144.67 Q221.77,143.17 223.37,144.67 L223.61,147.37 C224.49,149.17 224.97,153.07 224.97,156.37 Q224.97,158.77 221.77,158.77 Q218.57,158.77 218.57,156.37 C218.57,153.07 219.05,149.17 219.93,147.37 Z" fill="#ececee"/>
<ellipse cx="220.97" cy="153.07" rx="0.7" ry="2.70" fill="#9a9aa0" opacity="0.55"/>
<ellipse cx="222.77" cy="149.77" rx="0.6" ry="1.50" fill="#a0a0a6" opacity="0.5"/>
<line x1="228.48" y1="157.11" x2="228.88" y2="170.11" stroke="#808080" stroke-width="0.9" opacity="0.85"/>
<path d="M226.88,144.01 Q228.48,142.51 230.08,144.01 L230.32,146.71 C231.20,148.51 231.68,152.41 231.68,155.71 Q231.68,158.11 228.48,158.11 Q225.28,158.11 225.28,155.71 C225.28,152.41 225.76,148.51 226.64,146.71 Z" fill="#ececee"/>
<ellipse cx="227.68" cy="152.41" rx="0.7" ry="2.70" fill="#9a9aa0" opacity="0.55"/>
<ellipse cx="229.48" cy="149.11" rx="0.6" ry="1.50" fill="#a0a0a6" opacity="0.5"/>
<line x1="203.41" y1="188.66" x2="203.13" y2="201.66" stroke="#808080" stroke-width="0.9" opacity="0.85"/>
<path d="M201.81,174.06 Q203.41,172.56 205.01,174.06 L205.25,177.12 C206.13,179.10 206.61,183.39 206.61,187.02 Q206.61,189.66 203.41,189.66 Q200.21,189.66 200.21,187.02 C200.21,183.39 200.69,179.10 201.57,177.12 Z" fill="#ececee"/>
<ellipse cx="202.61" cy="183.39" rx="0.7" ry="2.97" fill="#9a9aa0" opacity="0.55"/>
<ellipse cx="204.41" cy="179.76" rx="0.6" ry="1.65" fill="#a0a0a6" opacity="0.5"/>
<line x1="209.49" y1="189.43" x2="209.08" y2="202.43" stroke="#808080" stroke-width="0.9" opacity="0.85"/>
<path d="M207.89,174.83 Q209.49,173.33 211.09,174.83 L211.33,177.89 C212.21,179.87 212.69,184.16 212.69,187.79 Q212.69,190.43 209.49,190.43 Q206.29,190.43 206.29,187.79 C206.29,184.16 206.77,179.87 207.65,177.89 Z" fill="#ececee"/>
<ellipse cx="208.69" cy="184.16" rx="0.7" ry="2.97" fill="#9a9aa0" opacity="0.55"/>
<ellipse cx="210.49" cy="180.53" rx="0.6" ry="1.65" fill="#a0a0a6" opacity="0.5"/>
<line x1="215.56" y1="188.85" x2="215.74" y2="201.85" stroke="#808080" stroke-width="0.9" opacity="0.85"/>
<path d="M213.96,174.25 Q215.56,172.75 217.16,174.25 L217.40,177.31 C218.28,179.29 218.76,183.58 218.76,187.21 Q218.76,189.85 215.56,189.85 Q212.36,189.85 212.36,187.21 C212.36,183.58 212.84,179.29 213.72,177.31 Z" fill="#ececee"/>
<ellipse cx="214.76" cy="183.58" rx="0.7" ry="2.97" fill="#9a9aa0" opacity="0.55"/>
<ellipse cx="216.56" cy="179.95" rx="0.6" ry="1.65" fill="#a0a0a6" opacity="0.5"/>
<line x1="222.20" y1="188.99" x2="221.99" y2="201.99" stroke="#808080" stroke-width="0.9" opacity="0.85"/>
<path d="M220.60,174.39 Q222.20,172.89 223.80,174.39 L224.04,177.45 C224.92,179.43 225.40,183.72 225.40,187.35 Q225.40,189.99 222.20,189.99 Q219.00,189.99 219.00,187.35 C219.00,183.72 219.48,179.43 220.36,177.45 Z" fill="#ececee"/>
<ellipse cx="221.40" cy="183.72" rx="0.7" ry="2.97" fill="#9a9aa0" opacity="0.55"/>
<ellipse cx="223.20" cy="180.09" rx="0.6" ry="1.65" fill="#a0a0a6" opacity="0.5"/>
<line x1="228.29" y1="188.95" x2="228.16" y2="201.95" stroke="#808080" stroke-width="0.9" opacity="0.85"/>
<path d="M226.69,174.35 Q228.29,172.85 229.89,174.35 L230.13,177.41 C231.01,179.39 231.49,183.68 231.49,187.31 Q231.49,189.95 228.29,189.95 Q225.09,189.95 225.09,187.31 C225.09,183.68 225.57,179.39 226.45,177.41 Z" fill="#ececee"/>
<ellipse cx="227.49" cy="183.68" rx="0.7" ry="2.97" fill="#9a9aa0" opacity="0.55"/>
<ellipse cx="229.29" cy="180.05" rx="0.6" ry="1.65" fill="#a0a0a6" opacity="0.5"/>
<line x1="202.90" y1="228.00" x2="203.66" y2="241.00" stroke="#808080" stroke-width="0.9" opacity="0.85"/>
<path d="M201.30,214.90 Q202.90,213.40 204.50,214.90 L204.74,217.60 C205.62,219.40 206.10,223.30 206.10,226.60 Q206.10,229.00 202.90,229.00 Q199.70,229.00 199.70,226.60 C199.70,223.30 200.18,219.40 201.06,217.60 Z" fill="#cfcff2"/>
<ellipse cx="202.90" cy="223.00" rx="1.92" ry="3.75" fill="#ececff"/>
<line x1="209.40" y1="228.25" x2="208.85" y2="241.25" stroke="#808080" stroke-width="0.9" opacity="0.85"/>
<path d="M207.80,215.15 Q209.40,213.65 211.00,215.15 L211.24,217.85 C212.12,219.65 212.60,223.55 212.60,226.85 Q212.60,229.25 209.40,229.25 Q206.20,229.25 206.20,226.85 C206.20,223.55 206.68,219.65 207.56,217.85 Z" fill="#cfcff2"/>
<ellipse cx="209.40" cy="223.25" rx="1.92" ry="3.75" fill="#ececff"/>
<line x1="215.86" y1="228.26" x2="216.14" y2="241.26" stroke="#808080" stroke-width="0.9" opacity="0.85"/>
<path d="M214.26,215.16 Q215.86,213.66 217.46,215.16 L217.70,217.86 C218.58,219.66 219.06,223.56 219.06,226.86 Q219.06,229.26 215.86,229.26 Q212.66,229.26 212.66,226.86 C212.66,223.56 213.14,219.66 214.02,217.86 Z" fill="#cfcff2"/>
<ellipse cx="215.86" cy="223.26" rx="1.92" ry="3.75" fill="#ececff"/>
<line x1="222.06" y1="227.98" x2="222.29" y2="240.98" stroke="#808080" stroke-width="0.9" opacity="0.85"/>
<path d="M220.46,214.88 Q222.06,213.38 223.66,214.88 L223.90,217.58 C224.78,219.38 225.26,223.28 225.26,226.58 Q225.26,228.98 222.06,228.98 Q218.86,228.98 218.86,226.58 C218.86,223.28 219.34,219.38 220.22,217.58 Z" fill="#cfcff2"/>
<ellipse cx="222.06" cy="222.98" rx="1.92" ry="3.75" fill="#ececff"/>
<line x1="228.59" y1="227.65" x2="227.94" y2="240.65" stroke="#808080" stroke-width="0.9" opacity="0.85"/>
<path d="M226.99,214.55 Q228.59,213.05 230.19,214.55 L230.43,217.25 C231.31,219.05 231.79,222.95 231.79,226.25 Q231.79,228.65 228.59,228.65 Q225.39,228.65 225.39,226.25 C225.39,222.95 225.87,219.05 226.75,217.25 Z" fill="#cfcff2"/>
<ellipse cx="228.59" cy="222.65" rx="1.92" ry="3.75" fill="#ececff"/>
<line x1="241.80" y1="122.32" x2="241.83" y2="135.32" stroke="#808080" stroke-width="0.9" opacity="0.85"/>
<path d="M240.20,110.22 Q241.80,108.72 243.40,110.22 L243.64,112.68 C244.52,114.36 245.00,118.00 245.00,121.08 Q245.00,123.32 241.80,123.32 Q238.60,123.32 238.60,121.08 C238.60,118.00 239.08,114.36 239.96,112.68 Z" fill="#ececee"/>
<ellipse cx="241.00" cy="118.00" rx="0.7" ry="2.52" fill="#9a9aa0" opacity="0.55"/>
<ellipse cx="242.80" cy="114.92" rx="0.6" ry="1.40" fill="#a0a0a6" opacity="0.5"/>
<line x1="247.92" y1="122.12" x2="247.41" y2="135.12" stroke="#808080" stroke-width="0.9" opacity="0.85"/>
<path d="M246.32,110.02 Q247.92,108.52 249.52,110.02 L249.76,112.48 C250.64,114.16 251.12,117.80 251.12,120.88 Q251.12,123.12 247.92,123.12 Q244.72,123.12 244.72,120.88 C244.72,117.80 245.20,114.16 246.08,112.48 Z" fill="#ececee"/>
<ellipse cx="247.12" cy="117.80" rx="0.7" ry="2.52" fill="#9a9aa0" opacity="0.55"/>
<ellipse cx="248.92" cy="114.72" rx="0.6" ry="1.40" fill="#a0a0a6" opacity="0.5"/>
<line x1="254.11" y1="121.60" x2="254.25" y2="134.60" stroke="#808080" stroke-width="0.9" opacity="0.85"/>
<path d="M252.51,109.50 Q254.11,108.00 255.71,109.50 L255.95,111.96 C256.83,113.64 257.31,117.28 257.31,120.36 Q257.31,122.60 254.11,122.60 Q250.91,122.60 250.91,120.36 C250.91,117.28 251.39,113.64 252.27,111.96 Z" fill="#ececee"/>
<ellipse cx="253.31" cy="117.28" rx="0.7" ry="2.52" fill="#9a9aa0" opacity="0.55"/>
<ellipse cx="255.11" cy="114.20" rx="0.6" ry="1.40" fill="#a0a0a6" opacity="0.5"/>
<line x1="260.44" y1="121.63" x2="260.74" y2="134.63" stroke="#808080" stroke-width="0.9" opacity="0.85"/>
<path d="M258.84,109.53 Q260.44,108.03 262.04,109.53 L262.28,111.99 C263.16,113.67 263.64,117.31 263.64,120.39 Q263.64,122.63 260.44,122.63 Q257.24,122.63 257.24,120.39 C257.24,117.31 257.72,113.67 258.60,111.99 Z" fill="#ececee"/>
<ellipse cx="259.64" cy="117.31" rx="0.7" ry="2.52" fill="#9a9aa0" opacity="0.55"/>
<ellipse cx="261.44" cy="114.23" rx="0.6" ry="1.40" fill="#a0a0a6" opacity="0.5"/>
<line x1="267.12" y1="121.70" x2="267.45" y2="134.70" stroke="#808080" stroke-width="0.9" opacity="0.85"/>
<path d="M265.52,109.60 Q267.12,108.10 268.72,109.60 L268.96,112.06 C269.84,113.74 270.32,117.38 270.32,120.46 Q270.32,122.70 267.12,122.70 Q263.92,122.70 263.92,120.46 C263.92,117.38 264.40,113.74 265.28,112.06 Z" fill="#ececee"/>
<ellipse cx="266.32" cy="117.38" rx="0.7" ry="2.52" fill="#9a9aa0" opacity="0.55"/>
<ellipse cx="268.12" cy="114.30" rx="0.6" ry="1.40" fill="#a0a0a6" opacity="0.5"/>
<line x1="241.60" y1="157.85" x2="241.73" y2="170.85" stroke="#808080" stroke-width="0.9" opacity="0.85"/>
<path d="M240.00,144.75 Q241.60,143.25 243.20,144.75 L243.44,147.45 C244.32,149.25 244.80,153.15 244.80,156.45 Q244.80,158.85 241.60,158.85 Q238.40,158.85 238.40,156.45 C238.40,153.15 238.88,149.25 239.76,147.45 Z" fill="#ececee"/>
<ellipse cx="240.80" cy="153.15" rx="0.7" ry="2.70" fill="#9a9aa0" opacity="0.55"/>
<ellipse cx="242.60" cy="149.85" rx="0.6" ry="1.50" fill="#a0a0a6" opacity="0.5"/>
<line x1="247.81" y1="157.22" x2="247.05" y2="170.22" stroke="#808080" stroke-width="0.9" opacity="0.85"/>
<path d="M246.21,144.12 Q247.81,142.62 249.41,144.12 L249.65,146.82 C250.53,148.62 251.01,152.52 251.01,155.82 Q251.01,158.22 247.81,158.22 Q244.61,158.22 244.61,155.82 C244.61,152.52 245.09,148.62 245.97,146.82 Z" fill="#ececee"/>
<ellipse cx="247.01" cy="152.52" rx="0.7" ry="2.70" fill="#9a9aa0" opacity="0.55"/>
<ellipse cx="248.81" cy="149.22" rx="0.6" ry="1.50" fill="#a0a0a6" opacity="0.5"/>
<line x1="254.24" y1="157.38" x2="253.71" y2="170.38" stroke="#808080" stroke-width="0.9" opacity="0.85"/>
<path d="M252.64,144.28 Q254.24,142.78 255.84,144.28 L256.08,146.98 C256.96,148.78 257.44,152.68 257.44,155.98 Q257.44,158.38 254.24,158.38 Q251.04,158.38 251.04,155.98 C251.04,152.68 251.52,148.78 252.40,146.98 Z" fill="#ececee"/>
<ellipse cx="253.44" cy="152.68" rx="0.7" ry="2.70" fill="#9a9aa0" opacity="0.55"/>
<ellipse cx="255.24" cy="149.38" rx="0.6" ry="1.50" fill="#a0a0a6" opacity="0.5"/>
<line x1="260.47" y1="157.32" x2="260.91" y2="170.32" stroke="#808080" stroke-width="0.9" opacity="0.85"/>
<path d="M258.87,144.22 Q260.47,142.72 262.07,144.22 L262.31,146.92 C263.19,148.72 263.67,152.62 263.67,155.92 Q263.67,158.32 260.47,158.32 Q257.27,158.32 257.27,155.92 C257.27,152.62 257.75,148.72 258.63,146.92 Z" fill="#ececee"/>
<ellipse cx="259.67" cy="152.62" rx="0.7" ry="2.70" fill="#9a9aa0" opacity="0.55"/>
<ellipse cx="261.47" cy="149.32" rx="0.6" ry="1.50" fill="#a0a0a6" opacity="0.5"/>
<line x1="266.64" y1="157.99" x2="266.60" y2="170.99" stroke="#808080" stroke-width="0.9" opacity="0.85"/>
<path d="M265.04,144.89 Q266.64,143.39 268.24,144.89 L268.48,147.59 C269.36,149.39 269.84,153.29 269.84,156.59 Q269.84,158.99 266.64,158.99 Q263.44,158.99 263.44,156.59 C263.44,153.29 263.92,149.39 264.80,147.59 Z" fill="#ececee"/>
<ellipse cx="265.84" cy="153.29" rx="0.7" ry="2.70" fill="#9a9aa0" opacity="0.55"/>
<ellipse cx="267.64" cy="149.99" rx="0.6" ry="1.50" fill="#a0a0a6" opacity="0.5"/>
<line x1="241.71" y1="189.07" x2="242.24" y2="202.07" stroke="#808080" stroke-width="0.9" opacity="0.85"/>
<path d="M240.11,174.47 Q241.71,172.97 243.31,174.47 L243.55,177.53 C244.43,179.51 244.91,183.80 244.91,187.43 Q244.91,190.07 241.71,190.07 Q238.51,190.07 238.51,187.43 C238.51,183.80 238.99,179.51 239.87,177.53 Z" fill="#ececee"/>
<ellipse cx="240.91" cy="183.80" rx="0.7" ry="2.97" fill="#9a9aa0" opacity="0.55"/>
<ellipse cx="242.71" cy="180.17" rx="0.6" ry="1.65" fill="#a0a0a6" opacity="0.5"/>
<line x1="248.14" y1="189.16" x2="248.11" y2="202.16" stroke="#808080" stroke-width="0.9" opacity="0.85"/>
<path d="M246.54,174.56 Q248.14,173.06 249.74,174.56 L249.98,177.62 C250.86,179.60 251.34,183.89 251.34,187.52 Q251.34,190.16 248.14,190.16 Q244.94,190.16 244.94,187.52 C244.94,183.89 245.42,179.60 246.30,177.62 Z" fill="#ececee"/>
<ellipse cx="247.34" cy="183.89" rx="0.7" ry="2.97" fill="#9a9aa0" opacity="0.55"/>
<ellipse cx="249.14" cy="180.26" rx="0.6" ry="1.65" fill="#a0a0a6" opacity="0.5"/>
<line x1="254.38" y1="189.46" x2="254.22" y2="202.46" stroke="#808080" stroke-width="0.9" opacity="0.85"/>
<path d="M252.78,174.86 Q254.38,173.36 255.98,174.86 L256.22,177.92 C257.10,179.90 257.58,184.19 257.58,187.82 Q257.58,190.46 254.38,190.46 Q251.18,190.46 251.18,187.82 C251.18,184.19 251.66,179.90 252.54,177.92 Z" fill="#ececee"/>
<ellipse cx="253.58" cy="184.19" rx="0.7" ry="2.97" fill="#9a9aa0" opacity="0.55"/>
<ellipse cx="255.38" cy="180.56" rx="0.6" ry="1.65" fill="#a0a0a6" opacity="0.5"/>
<line x1="260.69" y1="189.56" x2="260.64" y2="202.56" stroke="#808080" stroke-width="0.9" opacity="0.85"/>
<path d="M259.09,174.96 Q260.69,173.46 262.29,174.96 L262.53,178.02 C263.41,180.00 263.89,184.29 263.89,187.92 Q263.89,190.56 260.69,190.56 Q257.49,190.56 257.49,187.92 C257.49,184.29 257.97,180.00 258.85,178.02 Z" fill="#ececee"/>
<ellipse cx="259.89" cy="184.29" rx="0.7" ry="2.97" fill="#9a9aa0" opacity="0.55"/>
<ellipse cx="261.69" cy="180.66" rx="0.6" ry="1.65" fill="#a0a0a6" opacity="0.5"/>
<line x1="266.69" y1="188.83" x2="267.04" y2="201.83" stroke="#808080" stroke-width="0.9" opacity="0.85"/>
<path d="M265.09,174.23 Q266.69,172.73 268.29,174.23 L268.53,177.29 C269.41,179.27 269.89,183.56 269.89,187.19 Q269.89,189.83 266.69,189.83 Q263.49,189.83 263.49,187.19 C263.49,183.56 263.97,179.27 264.85,177.29 Z" fill="#ececee"/>
<ellipse cx="265.89" cy="183.56" rx="0.7" ry="2.97" fill="#9a9aa0" opacity="0.55"/>
<ellipse cx="267.69" cy="179.93" rx="0.6" ry="1.65" fill="#a0a0a6" opacity="0.5"/>
<line x1="241.76" y1="228.46" x2="242.32" y2="241.46" stroke="#808080" stroke-width="0.9" opacity="0.85"/>
<path d="M240.16,215.36 Q241.76,213.86 243.36,215.36 L243.60,218.06 C244.48,219.86 244.96,223.76 244.96,227.06 Q244.96,229.46 241.76,229.46 Q238.56,229.46 238.56,227.06 C238.56,223.76 239.04,219.86 239.92,218.06 Z" fill="#cfcff2"/>
<ellipse cx="241.76" cy="223.46" rx="1.92" ry="3.75" fill="#ececff"/>
<line x1="247.80" y1="227.69" x2="247.41" y2="240.69" stroke="#808080" stroke-width="0.9" opacity="0.85"/>
<path d="M246.20,214.59 Q247.80,213.09 249.40,214.59 L249.64,217.29 C250.52,219.09 251.00,222.99 251.00,226.29 Q251.00,228.69 247.80,228.69 Q244.60,228.69 244.60,226.29 C244.60,222.99 245.08,219.09 245.96,217.29 Z" fill="#cfcff2"/>
<ellipse cx="247.80" cy="222.69" rx="1.92" ry="3.75" fill="#ececff"/>
<line x1="254.06" y1="228.20" x2="254.64" y2="241.20" stroke="#808080" stroke-width="0.9" opacity="0.85"/>
<path d="M252.46,215.10 Q254.06,213.60 255.66,215.10 L255.90,217.80 C256.78,219.60 257.26,223.50 257.26,226.80 Q257.26,229.20 254.06,229.20 Q250.86,229.20 250.86,226.80 C250.86,223.50 251.34,219.60 252.22,217.80 Z" fill="#cfcff2"/>
<ellipse cx="254.06" cy="223.20" rx="1.92" ry="3.75" fill="#ececff"/>
<line x1="260.79" y1="227.76" x2="261.37" y2="240.76" stroke="#808080" stroke-width="0.9" opacity="0.85"/>
<path d="M259.19,214.66 Q260.79,213.16 262.39,214.66 L262.63,217.36 C263.51,219.16 263.99,223.06 263.99,226.36 Q263.99,228.76 260.79,228.76 Q257.59,228.76 257.59,226.36 C257.59,223.06 258.07,219.16 258.95,217.36 Z" fill="#cfcff2"/>
<ellipse cx="260.79" cy="222.76" rx="1.92" ry="3.75" fill="#ececff"/>
<line x1="266.74" y1="227.92" x2="267.10" y2="240.92" stroke="#808080" stroke-width="0.9" opacity="0.85"/>
<path d="M265.14,214.82 Q266.74,213.32 268.34,214.82 L268.58,217.52 C269.46,219.32 269.94,223.22 269.94,226.52 Q269.94,228.92 266.74,228.92 Q263.54,228.92 263.54,226.52 C263.54,223.22 264.02,219.32 264.90,217.52 Z" fill="#cfcff2"/>
<ellipse cx="266.74" cy="222.92" rx="1.92" ry="3.75" fill="#ececff"/>
<line x1="278.90" y1="121.49" x2="279.44" y2="134.49" stroke="#808080" stroke-width="0.9" opacity="0.85"/>
<path d="M277.30,109.39 Q278.90,107.89 280.50,109.39 L280.74,111.85 C281.62,113.53 282.10,117.17 282.10,120.25 Q282.10,122.49 278.90,122.49 Q275.70,122.49 275.70,120.25 C275.70,117.17 276.18,113.53 277.06,111.85 Z" fill="#ececee"/>
<ellipse cx="278.10" cy="117.17" rx="0.7" ry="2.52" fill="#9a9aa0" opacity="0.55"/>
<ellipse cx="279.90" cy="114.09" rx="0.6" ry="1.40" fill="#a0a0a6" opacity="0.5"/>
<line x1="285.33" y1="121.76" x2="285.45" y2="134.76" stroke="#808080" stroke-width="0.9" opacity="0.85"/>
<path d="M283.73,109.66 Q285.33,108.16 286.93,109.66 L287.17,112.12 C288.05,113.80 288.53,117.44 288.53,120.52 Q288.53,122.76 285.33,122.76 Q282.13,122.76 282.13,120.52 C282.13,117.44 282.61,113.80 283.49,112.12 Z" fill="#ececee"/>
<ellipse cx="284.53" cy="117.44" rx="0.7" ry="2.52" fill="#9a9aa0" opacity="0.55"/>
<ellipse cx="286.33" cy="114.36" rx="0.6" ry="1.40" fill="#a0a0a6" opacity="0.5"/>
<line x1="291.86" y1="121.41" x2="291.59" y2="134.41" stroke="#808080" stroke-width="0.9" opacity="0.85"/>
<path d="M290.26,109.31 Q291.86,107.81 293.46,109.31 L293.70,111.77 C294.58,113.45 295.06,117.09 295.06,120.17 Q295.06,122.41 291.86,122.41 Q288.66,122.41 288.66,120.17 C288.66,117.09 289.14,113.45 290.02,111.77 Z" fill="#ececee"/>
<ellipse cx="291.06" cy="117.09" rx="0.7" ry="2.52" fill="#9a9aa0" opacity="0.55"/>
<ellipse cx="292.86" cy="114.01" rx="0.6" ry="1.40" fill="#a0a0a6" opacity="0.5"/>
<line x1="298.01" y1="121.89" x2="297.55" y2="134.89" stroke="#808080" stroke-width="0.9" opacity="0.85"/>
<path d="M296.41,109.79 Q298.01,108.29 299.61,109.79 L299.85,112.25 C300.73,113.93 301.21,117.57 301.21,120.65 Q301.21,122.89 298.01,122.89 Q294.81,122.89 294.81,120.65 C294.81,117.57 295.29,113.93 296.17,112.25 Z" fill="#ececee"/>
<ellipse cx="297.21" cy="117.57" rx="0.7" ry="2.52" fill="#9a9aa0" opacity="0.55"/>
<ellipse cx="299.01" cy="114.49" rx="0.6" ry="1.40" fill="#a0a0a6" opacity="0.5"/>
<line x1="304.40" y1="122.36" x2="304.23" y2="135.36" stroke="#808080" stroke-width="0.9" opacity="0.85"/>
<path d="M302.80,110.26 Q304.40,108.76 306.00,110.26 L306.24,112.72 C307.12,114.40 307.60,118.04 307.60,121.12 Q307.60,123.36 304.40,123.36 Q301.20,123.36 301.20,121.12 C301.20,118.04 301.68,114.40 302.56,112.72 Z" fill="#ececee"/>
<ellipse cx="303.60" cy="118.04" rx="0.7" ry="2.52" fill="#9a9aa0" opacity="0.55"/>
<ellipse cx="305.40" cy="114.96" rx="0.6" ry="1.40" fill="#a0a0a6" opacity="0.5"/>
<line x1="279.18" y1="157.12" x2="278.82" y2="170.12" stroke="#808080" stroke-width="0.9" opacity="0.85"/>
<path d="M277.58,144.02 Q279.18,142.52 280.78,144.02 L281.02,146.72 C281.90,148.52 282.38,152.42 282.38,155.72 Q282.38,158.12 279.18,158.12 Q275.98,158.12 275.98,155.72 C275.98,152.42 276.46,148.52 277.34,146.72 Z" fill="#ececee"/>
<ellipse cx="278.38" cy="152.42" rx="0.7" ry="2.70" fill="#9a9aa0" opacity="0.55"/>
<ellipse cx="280.18" cy="149.12" rx="0.6" ry="1.50" fill="#a0a0a6" opacity="0.5"/>
<line x1="285.55" y1="157.11" x2="286.17" y2="170.11" stroke="#808080" stroke-width="0.9" opacity="0.85"/>
<path d="M283.95,144.01 Q285.55,142.51 287.15,144.01 L287.39,146.71 C288.27,148.51 288.75,152.41 288.75,155.71 Q288.75,158.11 285.55,158.11 Q282.35,158.11 282.35,155.71 C282.35,152.41 282.83,148.51 283.71,146.71 Z" fill="#ececee"/>
<ellipse cx="284.75" cy="152.41" rx="0.7" ry="2.70" fill="#9a9aa0" opacity="0.55"/>
<ellipse cx="286.55" cy="149.11" rx="0.6" ry="1.50" fill="#a0a0a6" opacity="0.5"/>
<line x1="292.00" y1="157.10" x2="292.70" y2="170.10" stroke="#808080" stroke-width="0.9" opacity="0.85"/>
<path d="M290.40,144.00 Q292.00,142.50 293.60,144.00 L293.84,146.70 C294.72,148.50 295.20,152.40 295.20,155.70 Q295.20,158.10 292.00,158.10 Q288.80,158.10 288.80,155.70 C288.80,152.40 289.28,148.50 290.16,146.70 Z" fill="#ececee"/>
<ellipse cx="291.20" cy="152.40" rx="0.7" ry="2.70" fill="#9a9aa0" opacity="0.55"/>
<ellipse cx="293.00" cy="149.10" rx="0.6" ry="1.50" fill="#a0a0a6" opacity="0.5"/>
<line x1="297.97" y1="157.77" x2="298.39" y2="170.77" stroke="#808080" stroke-width="0.9" opacity="0.85"/>
<path d="M296.37,144.67 Q297.97,143.17 299.57,144.67 L299.81,147.37 C300.69,149.17 301.17,153.07 301.17,156.37 Q301.17,158.77 297.97,158.77 Q294.77,158.77 294.77,156.37 C294.77,153.07 295.25,149.17 296.13,147.37 Z" fill="#ececee"/>
<ellipse cx="297.17" cy="153.07" rx="0.7" ry="2.70" fill="#9a9aa0" opacity="0.55"/>
<ellipse cx="298.97" cy="149.77" rx="0.6" ry="1.50" fill="#a0a0a6" opacity="0.5"/>
<line x1="304.23" y1="157.68" x2="304.47" y2="170.68" stroke="#808080" stroke-width="0.9" opacity="0.85"/>
<path d="M302.63,144.58 Q304.23,143.08 305.83,144.58 L306.07,147.28 C306.95,149.08 307.43,152.98 307.43,156.28 Q307.43,158.68 304.23,158.68 Q301.03,158.68 301.03,156.28 C301.03,152.98 301.51,149.08 302.39,147.28 Z" fill="#ececee"/>
<ellipse cx="303.43" cy="152.98" rx="0.7" ry="2.70" fill="#9a9aa0" opacity="0.55"/>
<ellipse cx="305.23" cy="149.68" rx="0.6" ry="1.50" fill="#a0a0a6" opacity="0.5"/>
<line x1="279.33" y1="188.87" x2="279.74" y2="201.87" stroke="#808080" stroke-width="0.9" opacity="0.85"/>
<path d="M277.73,174.27 Q279.33,172.77 280.93,174.27 L281.17,177.33 C282.05,179.31 282.53,183.60 282.53,187.23 Q282.53,189.87 279.33,189.87 Q276.13,189.87 276.13,187.23 C276.13,183.60 276.61,179.31 277.49,177.33 Z" fill="#ececee"/>
<ellipse cx="278.53" cy="183.60" rx="0.7" ry="2.97" fill="#9a9aa0" opacity="0.55"/>
<ellipse cx="280.33" cy="179.97" rx="0.6" ry="1.65" fill="#a0a0a6" opacity="0.5"/>
<ellipse cx="279.33" cy="181.62" rx="2.56" ry="4.62" fill="#3a90e0"/>
<line x1="285.73" y1="189.27" x2="285.78" y2="202.27" stroke="#808080" stroke-width="0.9" opacity="0.85"/>
<path d="M284.13,174.67 Q285.73,173.17 287.33,174.67 L287.57,177.73 C288.45,179.71 288.93,184.00 288.93,187.63 Q288.93,190.27 285.73,190.27 Q282.53,190.27 282.53,187.63 C282.53,184.00 283.01,179.71 283.89,177.73 Z" fill="#ececee"/>
<ellipse cx="284.93" cy="184.00" rx="0.7" ry="2.97" fill="#9a9aa0" opacity="0.55"/>
<ellipse cx="286.73" cy="180.37" rx="0.6" ry="1.65" fill="#a0a0a6" opacity="0.5"/>
<ellipse cx="285.73" cy="182.02" rx="2.56" ry="4.62" fill="#5050d0"/>
<line x1="291.52" y1="189.09" x2="291.28" y2="202.09" stroke="#808080" stroke-width="0.9" opacity="0.85"/>
<path d="M289.92,174.49 Q291.52,172.99 293.12,174.49 L293.36,177.55 C294.24,179.53 294.72,183.82 294.72,187.45 Q294.72,190.09 291.52,190.09 Q288.32,190.09 288.32,187.45 C288.32,183.82 288.80,179.53 289.68,177.55 Z" fill="#ececee"/>
<ellipse cx="290.72" cy="183.82" rx="0.7" ry="2.97" fill="#9a9aa0" opacity="0.55"/>
<ellipse cx="292.52" cy="180.19" rx="0.6" ry="1.65" fill="#a0a0a6" opacity="0.5"/>
<line x1="298.18" y1="189.28" x2="298.29" y2="202.28" stroke="#808080" stroke-width="0.9" opacity="0.85"/>
<path d="M296.58,174.68 Q298.18,173.18 299.78,174.68 L300.02,177.74 C300.90,179.72 301.38,184.01 301.38,187.64 Q301.38,190.28 298.18,190.28 Q294.98,190.28 294.98,187.64 C294.98,184.01 295.46,179.72 296.34,177.74 Z" fill="#ececee"/>
<ellipse cx="297.38" cy="184.01" rx="0.7" ry="2.97" fill="#9a9aa0" opacity="0.55"/>
<ellipse cx="299.18" cy="180.38" rx="0.6" ry="1.65" fill="#a0a0a6" opacity="0.5"/>
<line x1="304.16" y1="189.25" x2="304.37" y2="202.25" stroke="#808080" stroke-width="0.9" opacity="0.85"/>
<path d="M302.56,174.65 Q304.16,173.15 305.76,174.65 L306.00,177.71 C306.88,179.69 307.36,183.98 307.36,187.61 Q307.36,190.25 304.16,190.25 Q300.96,190.25 300.96,187.61 C300.96,183.98 301.44,179.69 302.32,177.71 Z" fill="#ececee"/>
<ellipse cx="303.36" cy="183.98" rx="0.7" ry="2.97" fill="#9a9aa0" opacity="0.55"/>
<ellipse cx="305.16" cy="180.35" rx="0.6" ry="1.65" fill="#a0a0a6" opacity="0.5"/>
<ellipse cx="304.16" cy="182.00" rx="2.56" ry="4.62" fill="#40a0e0"/>
<line x1="278.96" y1="228.39" x2="279.21" y2="241.39" stroke="#808080" stroke-width="0.9" opacity="0.85"/>
<path d="M277.36,215.29 Q278.96,213.79 280.56,215.29 L280.80,217.99 C281.68,219.79 282.16,223.69 282.16,226.99 Q282.16,229.39 278.96,229.39 Q275.76,229.39 275.76,226.99 C275.76,223.69 276.24,219.79 277.12,217.99 Z" fill="#cfcff2"/>
<ellipse cx="278.96" cy="223.39" rx="1.92" ry="3.75" fill="#ececff"/>
<line x1="285.22" y1="228.43" x2="284.65" y2="241.43" stroke="#808080" stroke-width="0.9" opacity="0.85"/>
<path d="M283.62,215.33 Q285.22,213.83 286.82,215.33 L287.06,218.03 C287.94,219.83 288.42,223.73 288.42,227.03 Q288.42,229.43 285.22,229.43 Q282.02,229.43 282.02,227.03 C282.02,223.73 282.50,219.83 283.38,218.03 Z" fill="#cfcff2"/>
<ellipse cx="285.22" cy="223.43" rx="1.92" ry="3.75" fill="#ececff"/>
<line x1="291.65" y1="228.22" x2="291.80" y2="241.22" stroke="#808080" stroke-width="0.9" opacity="0.85"/>
<path d="M290.05,215.12 Q291.65,213.62 293.25,215.12 L293.49,217.82 C294.37,219.62 294.85,223.52 294.85,226.82 Q294.85,229.22 291.65,229.22 Q288.45,229.22 288.45,226.82 C288.45,223.52 288.93,219.62 289.81,217.82 Z" fill="#cfcff2"/>
<ellipse cx="291.65" cy="223.22" rx="1.92" ry="3.75" fill="#ececff"/>
<line x1="298.08" y1="228.15" x2="298.02" y2="241.15" stroke="#808080" stroke-width="0.9" opacity="0.85"/>
<path d="M296.48,215.05 Q298.08,213.55 299.68,215.05 L299.92,217.75 C300.80,219.55 301.28,223.45 301.28,226.75 Q301.28,229.15 298.08,229.15 Q294.88,229.15 294.88,226.75 C294.88,223.45 295.36,219.55 296.24,217.75 Z" fill="#cfcff2"/>
<ellipse cx="298.08" cy="223.15" rx="1.92" ry="3.75" fill="#ececff"/>
<line x1="304.24" y1="227.68" x2="303.55" y2="240.68" stroke="#808080" stroke-width="0.9" opacity="0.85"/>
<path d="M302.64,214.58 Q304.24,213.08 305.84,214.58 L306.08,217.28 C306.96,219.08 307.44,222.98 307.44,226.28 Q307.44,228.68 304.24,228.68 Q301.04,228.68 301.04,226.28 C301.04,222.98 301.52,219.08 302.40,217.28 Z" fill="#cfcff2"/>
<ellipse cx="304.24" cy="222.68" rx="1.92" ry="3.75" fill="#ececff"/>
</g>
<g clip-path="url(#clipC)" filter="url(#soft)">
<rect x="392.3" y="104.5" width="38.69999999999999" height="39.30000000000001" fill="#2890d8"/>
<rect x="392.3" y="104.5" width="38.69999999999999" height="8" fill="#2a86d4" opacity="0.6"/>
<line x1="401.23" y1="130.55" x2="401.30" y2="142.55" stroke="#70e0d0" stroke-width="0.9" opacity="0.85"/>
<path d="M401.23,118.05 C404.03,118.05 403.70,122.10 404.53,125.48 C404.79,129.12 403.70,131.55 401.23,131.55 C398.75,131.55 397.67,129.12 397.93,125.48 C398.75,122.10 398.42,118.05 401.23,118.05 Z" fill="#60e090" stroke="#50d8b0" stroke-width="1.5"/>
<path d="M401.23,118.05 C404.03,118.05 403.70,122.10 404.53,125.48 C404.79,129.12 403.70,131.55 401.23,131.55 C398.75,131.55 397.67,129.12 397.93,125.48 C398.75,122.10 398.42,118.05 401.23,118.05 Z" fill="#ec1a10"/>
<ellipse cx="401.61" cy="125.34" rx="1.85" ry="1.3" fill="#f0d020"/>
<line x1="407.16" y1="130.18" x2="407.76" y2="142.18" stroke="#70e0d0" stroke-width="0.9" opacity="0.85"/>
<path d="M407.16,117.68 C409.96,117.68 409.63,121.73 410.46,125.11 C410.72,128.75 409.63,131.18 407.16,131.18 C404.68,131.18 403.60,128.75 403.86,125.11 C404.68,121.73 404.35,117.68 407.16,117.68 Z" fill="#60e090" stroke="#50d8b0" stroke-width="1.5"/>
<path d="M407.16,117.68 C409.96,117.68 409.63,121.73 410.46,125.11 C410.72,128.75 409.63,131.18 407.16,131.18 C404.68,131.18 403.60,128.75 403.86,125.11 C404.68,121.73 404.35,117.68 407.16,117.68 Z" fill="#ec1a10"/>
<ellipse cx="406.43" cy="125.46" rx="1.85" ry="1.3" fill="#f0d020"/>
<line x1="413.35" y1="130.57" x2="413.11" y2="142.57" stroke="#70e0d0" stroke-width="0.9" opacity="0.85"/>
<path d="M413.35,118.07 C416.15,118.07 415.82,122.12 416.65,125.49 C416.91,129.14 415.82,131.57 413.35,131.57 C410.87,131.57 409.78,129.14 410.05,125.49 C410.87,122.12 410.54,118.07 413.35,118.07 Z" fill="#60e090" stroke="#50d8b0" stroke-width="1.5"/>
<path d="M413.35,118.07 C416.15,118.07 415.82,122.12 416.65,125.49 C416.91,129.14 415.82,131.57 413.35,131.57 C410.87,131.57 409.78,129.14 410.05,125.49 C410.87,122.12 410.54,118.07 413.35,118.07 Z" fill="#ec1a10"/>
<ellipse cx="413.08" cy="125.51" rx="1.85" ry="1.3" fill="#f0d020"/>
<line x1="419.72" y1="130.57" x2="419.49" y2="142.57" stroke="#70e0d0" stroke-width="0.9" opacity="0.85"/>
<path d="M419.72,118.07 C422.53,118.07 422.20,122.12 423.02,125.50 C423.29,129.14 422.20,131.57 419.72,131.57 C417.25,131.57 416.16,129.14 416.42,125.50 C417.25,122.12 416.92,118.07 419.72,118.07 Z" fill="#60e090" stroke="#50d8b0" stroke-width="1.5"/>
<path d="M419.72,118.07 C422.53,118.07 422.20,122.12 423.02,125.50 C423.29,129.14 422.20,131.57 419.72,131.57 C417.25,131.57 416.16,129.14 416.42,125.50 C417.25,122.12 416.92,118.07 419.72,118.07 Z" fill="#ec1a10"/>
<ellipse cx="420.28" cy="124.53" rx="1.85" ry="1.3" fill="#f0d020"/>
<line x1="425.76" y1="129.20" x2="425.14" y2="141.20" stroke="#70e0d0" stroke-width="0.9" opacity="0.85"/>
<path d="M425.76,117.20 C428.27,117.20 427.97,121.10 428.71,124.35 C428.94,127.86 427.97,130.20 425.76,130.20 C423.55,130.20 422.58,127.86 422.82,124.35 C423.55,121.10 423.26,117.20 425.76,117.20 Z" fill="#40d8c0" stroke="#40c8d0" stroke-width="1.0"/>
<ellipse cx="425.76" cy="123.05" rx="1.77" ry="3.25" fill="#a0e040"/>
<rect x="392.3" y="143.8" width="38.69999999999999" height="28.899999999999977" fill="url(#gBW)"/>
<rect x="397.55" y="144.8" width="4" height="27.40" fill="#ffffff" opacity="0.08"/>
<rect x="404.05" y="144.8" width="4" height="27.40" fill="#ffffff" opacity="0.08"/>
<rect x="410.55" y="144.8" width="4" height="27.40" fill="#ffffff" opacity="0.08"/>
<rect x="417.05" y="144.8" width="4" height="27.40" fill="#ffffff" opacity="0.08"/>
<rect x="423.55" y="144.8" width="4" height="27.40" fill="#ffffff" opacity="0.08"/>
<ellipse cx="397.3" cy="166.34" rx="8" ry="4.3" fill="url(#glow)"/>
<ellipse cx="425.3" cy="166.34" rx="7" ry="4.0" fill="url(#glow)" opacity="0.8"/>
<rect x="392.3" y="143.8" width="38.69999999999999" height="1.1" fill="#111"/>
<rect x="392.3" y="172.7" width="38.69999999999999" height="36.900000000000006" fill="url(#gBW)"/>
<rect x="397.55" y="173.7" width="4" height="35.40" fill="#ffffff" opacity="0.08"/>
<rect x="404.05" y="173.7" width="4" height="35.40" fill="#ffffff" opacity="0.08"/>
<rect x="410.55" y="173.7" width="4" height="35.40" fill="#ffffff" opacity="0.08"/>
<rect x="417.05" y="173.7" width="4" height="35.40" fill="#ffffff" opacity="0.08"/>
<rect x="423.55" y="173.7" width="4" height="35.40" fill="#ffffff" opacity="0.08"/>
<ellipse cx="397.3" cy="201.48" rx="8" ry="5.5" fill="url(#glow)"/>
<ellipse cx="425.3" cy="201.48" rx="7" ry="5.2" fill="url(#glow)" opacity="0.8"/>
<rect x="392.3" y="172.7" width="38.69999999999999" height="1.1" fill="#111"/>
<rect x="392.3" y="209.6" width="38.69999999999999" height="38.400000000000006" fill="url(#gBW)"/>
<rect x="397.55" y="210.6" width="4" height="36.90" fill="#ffffff" opacity="0.08"/>
<rect x="404.05" y="210.6" width="4" height="36.90" fill="#ffffff" opacity="0.08"/>
<rect x="410.55" y="210.6" width="4" height="36.90" fill="#ffffff" opacity="0.08"/>
<rect x="417.05" y="210.6" width="4" height="36.90" fill="#ffffff" opacity="0.08"/>
<rect x="423.55" y="210.6" width="4" height="36.90" fill="#ffffff" opacity="0.08"/>
<ellipse cx="397.3" cy="239.55" rx="8" ry="5.8" fill="url(#glow)"/>
<ellipse cx="425.3" cy="239.55" rx="7" ry="5.4" fill="url(#glow)" opacity="0.8"/>
<rect x="392.3" y="209.6" width="38.69999999999999" height="1.1" fill="#111"/>
<line x1="400.04" y1="163.33" x2="399.53" y2="172.33" stroke="#777" stroke-width="0.9" opacity="0.85"/>
<path d="M398.58,149.73 Q400.04,148.23 401.50,149.73 L401.71,152.55 C402.52,154.41 402.95,158.44 402.95,161.85 Q402.95,164.33 400.04,164.33 Q397.12,164.33 397.12,161.85 C397.12,158.44 397.56,154.41 398.36,152.55 Z" fill="#ececee"/>
<ellipse cx="399.24" cy="158.44" rx="0.7" ry="2.79" fill="#9a9aa0" opacity="0.55"/>
<ellipse cx="401.04" cy="155.03" rx="0.6" ry="1.55" fill="#a0a0a6" opacity="0.5"/>
<line x1="405.82" y1="163.02" x2="406.21" y2="172.02" stroke="#777" stroke-width="0.9" opacity="0.85"/>
<path d="M404.37,149.42 Q405.82,147.92 407.28,149.42 L407.50,152.24 C408.30,154.10 408.74,158.13 408.74,161.54 Q408.74,164.02 405.82,164.02 Q402.91,164.02 402.91,161.54 C402.91,158.13 403.34,154.10 404.15,152.24 Z" fill="#ececee"/>
<ellipse cx="405.02" cy="158.13" rx="0.7" ry="2.79" fill="#9a9aa0" opacity="0.55"/>
<ellipse cx="406.82" cy="154.72" rx="0.6" ry="1.55" fill="#a0a0a6" opacity="0.5"/>
<ellipse cx="405.82" cy="156.27" rx="2.33" ry="4.34" fill="#5080d0"/>
<line x1="412.34" y1="163.35" x2="412.49" y2="172.35" stroke="#777" stroke-width="0.9" opacity="0.85"/>
<path d="M410.88,149.75 Q412.34,148.25 413.80,149.75 L414.02,152.57 C414.82,154.43 415.26,158.46 415.26,161.87 Q415.26,164.35 412.34,164.35 Q409.42,164.35 409.42,161.87 C409.42,158.46 409.86,154.43 410.66,152.57 Z" fill="#ececee"/>
<ellipse cx="411.54" cy="158.46" rx="0.7" ry="2.79" fill="#9a9aa0" opacity="0.55"/>
<ellipse cx="413.34" cy="155.05" rx="0.6" ry="1.55" fill="#a0a0a6" opacity="0.5"/>
<line x1="418.08" y1="163.00" x2="417.59" y2="172.00" stroke="#777" stroke-width="0.9" opacity="0.85"/>
<path d="M416.62,149.40 Q418.08,147.90 419.54,149.40 L419.75,152.22 C420.56,154.08 420.99,158.11 420.99,161.52 Q420.99,164.00 418.08,164.00 Q415.16,164.00 415.16,161.52 C415.16,158.11 415.60,154.08 416.40,152.22 Z" fill="#ececee"/>
<ellipse cx="417.28" cy="158.11" rx="0.7" ry="2.79" fill="#9a9aa0" opacity="0.55"/>
<ellipse cx="419.08" cy="154.70" rx="0.6" ry="1.55" fill="#a0a0a6" opacity="0.5"/>
<ellipse cx="418.08" cy="156.25" rx="2.33" ry="4.34" fill="#40a0d0"/>
<line x1="424.45" y1="163.17" x2="423.97" y2="172.17" stroke="#777" stroke-width="0.9" opacity="0.85"/>
<path d="M422.99,149.57 Q424.45,148.07 425.90,149.57 L426.12,152.39 C426.93,154.25 427.36,158.28 427.36,161.69 Q427.36,164.17 424.45,164.17 Q421.53,164.17 421.53,161.69 C421.53,158.28 421.97,154.25 422.77,152.39 Z" fill="#ececee"/>
<ellipse cx="423.65" cy="158.28" rx="0.7" ry="2.79" fill="#9a9aa0" opacity="0.55"/>
<ellipse cx="425.45" cy="154.87" rx="0.6" ry="1.55" fill="#a0a0a6" opacity="0.5"/>
<line x1="398.07" y1="188.78" x2="397.32" y2="201.78" stroke="#777" stroke-width="0.9" opacity="0.85"/>
<path d="M396.21,175.18 Q398.07,173.68 399.93,175.18 L400.21,178.00 C401.24,179.86 401.79,183.89 401.79,187.30 Q401.79,189.78 398.07,189.78 Q394.35,189.78 394.35,187.30 C394.35,183.89 394.90,179.86 395.93,178.00 Z" fill="#ececee"/>
<ellipse cx="397.27" cy="183.89" rx="0.7" ry="2.79" fill="#9a9aa0" opacity="0.55"/>
<ellipse cx="399.07" cy="180.48" rx="0.6" ry="1.55" fill="#a0a0a6" opacity="0.5"/>
<line x1="406.24" y1="188.89" x2="406.96" y2="201.89" stroke="#777" stroke-width="0.9" opacity="0.85"/>
<path d="M404.38,175.29 Q406.24,173.79 408.10,175.29 L408.38,178.11 C409.41,179.97 409.97,184.00 409.97,187.41 Q409.97,189.89 406.24,189.89 Q402.52,189.89 402.52,187.41 C402.52,184.00 403.08,179.97 404.10,178.11 Z" fill="#ececee"/>
<ellipse cx="405.44" cy="184.00" rx="0.7" ry="2.79" fill="#9a9aa0" opacity="0.55"/>
<ellipse cx="407.24" cy="180.59" rx="0.6" ry="1.55" fill="#a0a0a6" opacity="0.5"/>
<line x1="413.83" y1="188.55" x2="413.96" y2="201.55" stroke="#777" stroke-width="0.9" opacity="0.85"/>
<path d="M411.97,174.95 Q413.83,173.45 415.69,174.95 L415.97,177.77 C417.00,179.63 417.55,183.66 417.55,187.07 Q417.55,189.55 413.83,189.55 Q410.11,189.55 410.11,187.07 C410.11,183.66 410.66,179.63 411.69,177.77 Z" fill="#ececee"/>
<ellipse cx="413.03" cy="183.66" rx="0.7" ry="2.79" fill="#9a9aa0" opacity="0.55"/>
<ellipse cx="414.83" cy="180.25" rx="0.6" ry="1.55" fill="#a0a0a6" opacity="0.5"/>
<line x1="421.82" y1="188.98" x2="422.12" y2="201.98" stroke="#777" stroke-width="0.9" opacity="0.85"/>
<path d="M419.96,175.38 Q421.82,173.88 423.68,175.38 L423.96,178.20 C424.99,180.06 425.54,184.09 425.54,187.50 Q425.54,189.98 421.82,189.98 Q418.10,189.98 418.10,187.50 C418.10,184.09 418.65,180.06 419.68,178.20 Z" fill="#ececee"/>
<ellipse cx="421.02" cy="184.09" rx="0.7" ry="2.79" fill="#9a9aa0" opacity="0.55"/>
<ellipse cx="422.82" cy="180.68" rx="0.6" ry="1.55" fill="#a0a0a6" opacity="0.5"/>
<line x1="429.46" y1="188.86" x2="429.43" y2="201.86" stroke="#777" stroke-width="0.9" opacity="0.85"/>
<path d="M427.60,175.26 Q429.46,173.76 431.32,175.26 L431.60,178.08 C432.63,179.94 433.18,183.97 433.18,187.38 Q433.18,189.86 429.46,189.86 Q425.74,189.86 425.74,187.38 C425.74,183.97 426.29,179.94 427.32,178.08 Z" fill="#ececee"/>
<ellipse cx="428.66" cy="183.97" rx="0.7" ry="2.79" fill="#9a9aa0" opacity="0.55"/>
<ellipse cx="430.46" cy="180.56" rx="0.6" ry="1.55" fill="#a0a0a6" opacity="0.5"/>
<line x1="406.51" y1="231.33" x2="405.71" y2="246.33" stroke="#888" stroke-width="0.9" opacity="0.85"/>
<path d="M404.78,216.73 Q406.51,215.23 408.24,216.73 L408.50,219.79 C409.46,221.77 409.98,226.06 409.98,229.69 Q409.98,232.33 406.51,232.33 Q403.04,232.33 403.04,229.69 C403.04,226.06 403.56,221.77 404.52,219.79 Z" fill="#ececee"/>
<ellipse cx="405.71" cy="226.06" rx="0.7" ry="2.97" fill="#9a9aa0" opacity="0.55"/>
<ellipse cx="407.51" cy="222.43" rx="0.6" ry="1.65" fill="#a0a0a6" opacity="0.5"/>
<line x1="413.91" y1="231.26" x2="413.90" y2="246.26" stroke="#888" stroke-width="0.9" opacity="0.85"/>
<path d="M412.18,216.66 Q413.91,215.16 415.65,216.66 L415.91,219.72 C416.86,221.70 417.38,225.99 417.38,229.62 Q417.38,232.26 413.91,232.26 Q410.44,232.26 410.44,229.62 C410.44,225.99 410.96,221.70 411.92,219.72 Z" fill="#ececee"/>
<ellipse cx="413.11" cy="225.99" rx="0.7" ry="2.97" fill="#9a9aa0" opacity="0.55"/>
<ellipse cx="414.91" cy="222.36" rx="0.6" ry="1.65" fill="#a0a0a6" opacity="0.5"/>
<line x1="421.06" y1="231.06" x2="420.57" y2="246.06" stroke="#888" stroke-width="0.9" opacity="0.85"/>
<path d="M419.33,216.46 Q421.06,214.96 422.80,216.46 L423.06,219.52 C424.01,221.50 424.53,225.79 424.53,229.42 Q424.53,232.06 421.06,232.06 Q417.60,232.06 417.60,229.42 C417.60,225.79 418.12,221.50 419.07,219.52 Z" fill="#ececee"/>
<ellipse cx="420.26" cy="225.79" rx="0.7" ry="2.97" fill="#9a9aa0" opacity="0.55"/>
<ellipse cx="422.06" cy="222.16" rx="0.6" ry="1.65" fill="#a0a0a6" opacity="0.5"/>
<line x1="428.37" y1="230.64" x2="428.37" y2="245.64" stroke="#888" stroke-width="0.9" opacity="0.85"/>
<path d="M426.63,216.04 Q428.37,214.54 430.10,216.04 L430.36,219.10 C431.32,221.08 431.84,225.37 431.84,229.00 Q431.84,231.64 428.37,231.64 Q424.90,231.64 424.90,229.00 C424.90,225.37 425.42,221.08 426.37,219.10 Z" fill="#ececee"/>
<ellipse cx="427.57" cy="225.37" rx="0.7" ry="2.97" fill="#9a9aa0" opacity="0.55"/>
<ellipse cx="429.37" cy="221.74" rx="0.6" ry="1.65" fill="#a0a0a6" opacity="0.5"/>
</g>
<g filter="url(#txtsoft)">
<text x="7.3" y="16.6" font-size="12" font-weight="bold" fill="#000">A</text>
<rect x="50.5" y="61.7" width="223" height="2.2" fill="#3a3a3a"/>
<line x1="53.8" y1="52.0" x2="53.8" y2="58.4" stroke="#86b2d6" stroke-width="1.1"/><path d="M51.3,55.199999999999996 L56.3,55.199999999999996 L53.8,60.4 Z" fill="#86b2d6"/>
<text x="54.3" y="49" transform="rotate(-45 54.3 49)" font-size="8.3" fill="#111" style="stroke-width:0.16px">MOLM13</text>
<text x="53.9" y="71.7" font-size="7.8" fill="#333" text-anchor="middle" style="stroke-width:0">0</text>
<line x1="83.8" y1="52.0" x2="83.8" y2="58.4" stroke="#86b2d6" stroke-width="1.1"/><path d="M81.3,55.199999999999996 L86.3,55.199999999999996 L83.8,60.4 Z" fill="#86b2d6"/>
<text x="83.0" y="49" transform="rotate(-45 83.0 49)" font-size="8.3" fill="#111" style="stroke-width:0.16px">BC133</text>
<text x="83.5" y="71.7" font-size="7.8" fill="#333" text-anchor="middle" style="stroke-width:0">6</text>
<line x1="92.3" y1="52.0" x2="92.3" y2="58.4" stroke="#111" stroke-width="1.1"/><path d="M89.8,55.199999999999996 L94.8,55.199999999999996 L92.3,60.4 Z" fill="#111"/>
<text x="93.2" y="49" transform="rotate(-45 93.2 49)" font-size="8.3" fill="#111" style="stroke-width:0.16px">ATC</text>
<text x="92.7" y="71.7" font-size="7.8" fill="#333" text-anchor="middle" style="stroke-width:0">7</text>
<line x1="100.8" y1="52.0" x2="100.8" y2="58.4" stroke="#86b2d6" stroke-width="1.1"/><path d="M98.3,55.199999999999996 L103.3,55.199999999999996 L100.8,60.4 Z" fill="#86b2d6"/>
<text x="103.1" y="49" transform="rotate(-45 103.1 49)" font-size="8.3" fill="#111" style="stroke-width:0.16px">BC133</text>
<text x="101" y="71.7" font-size="7.8" fill="#333" text-anchor="middle" style="stroke-width:0">8</text>
<line x1="127.4" y1="52.0" x2="127.4" y2="58.4" stroke="#86b2d6" stroke-width="1.1"/><path d="M124.9,55.199999999999996 L129.9,55.199999999999996 L127.4,60.4 Z" fill="#86b2d6"/>
<text x="126.60000000000001" y="49" transform="rotate(-45 126.60000000000001 49)" font-size="8.3" fill="#111" style="stroke-width:0.16px">BC133</text>
<text x="126.0" y="71.7" font-size="7.8" fill="#333" text-anchor="middle" style="stroke-width:0">13</text>
<line x1="136.1" y1="52.0" x2="136.1" y2="58.4" stroke="#111" stroke-width="1.1"/><path d="M133.6,55.199999999999996 L138.6,55.199999999999996 L136.1,60.4 Z" fill="#111"/>
<text x="137.0" y="49" transform="rotate(-45 137.0 49)" font-size="8.3" fill="#111" style="stroke-width:0.16px">ATC</text>
<text x="135.9" y="71.7" font-size="7.8" fill="#333" text-anchor="middle" style="stroke-width:0">14</text>
<line x1="144.2" y1="52.0" x2="144.2" y2="58.4" stroke="#86b2d6" stroke-width="1.1"/><path d="M141.7,55.199999999999996 L146.7,55.199999999999996 L144.2,60.4 Z" fill="#86b2d6"/>
<text x="146.5" y="49" transform="rotate(-45 146.5 49)" font-size="8.3" fill="#111" style="stroke-width:0.16px">BC133</text>
<text x="147.3" y="71.7" font-size="7.8" fill="#333" text-anchor="middle" style="stroke-width:0">15</text>
<line x1="169.6" y1="52.0" x2="169.6" y2="58.4" stroke="#86b2d6" stroke-width="1.1"/><path d="M167.1,55.199999999999996 L172.1,55.199999999999996 L169.6,60.4 Z" fill="#86b2d6"/>
<text x="168.79999999999998" y="49" transform="rotate(-45 168.79999999999998 49)" font-size="8.3" fill="#111" style="stroke-width:0.16px">BC133</text>
<text x="167.3" y="71.7" font-size="7.8" fill="#333" text-anchor="middle" style="stroke-width:0">20</text>
<line x1="177.7" y1="52.0" x2="177.7" y2="58.4" stroke="#111" stroke-width="1.1"/><path d="M175.2,55.199999999999996 L180.2,55.199999999999996 L177.7,60.4 Z" fill="#111"/>
<text x="178.6" y="49" transform="rotate(-45 178.6 49)" font-size="8.3" fill="#111" style="stroke-width:0.16px">ATC</text>
<text x="177.5" y="71.7" font-size="7.8" fill="#333" text-anchor="middle" style="stroke-width:0">21</text>
<line x1="186.3" y1="52.0" x2="186.3" y2="58.4" stroke="#86b2d6" stroke-width="1.1"/><path d="M183.8,55.199999999999996 L188.8,55.199999999999996 L186.3,60.4 Z" fill="#86b2d6"/>
<text x="188.60000000000002" y="49" transform="rotate(-45 188.60000000000002 49)" font-size="8.3" fill="#111" style="stroke-width:0.16px">BC133</text>
<text x="188.5" y="71.7" font-size="7.8" fill="#333" text-anchor="middle" style="stroke-width:0">22</text>
<line x1="215.0" y1="52.0" x2="215.0" y2="58.4" stroke="#86b2d6" stroke-width="1.1"/><path d="M212.5,55.199999999999996 L217.5,55.199999999999996 L215.0,60.4 Z" fill="#86b2d6"/>
<text x="214.8" y="49" transform="rotate(-45 214.8 49)" font-size="8.3" fill="#111" style="stroke-width:0.16px">BC133</text>
<text x="214.8" y="71.7" font-size="7.8" fill="#333" text-anchor="middle" style="stroke-width:0">25</text>
<line x1="235.2" y1="52.0" x2="235.2" y2="58.4" stroke="#86b2d6" stroke-width="1.1"/><path d="M232.7,55.199999999999996 L237.7,55.199999999999996 L235.2,60.4 Z" fill="#86b2d6"/>
<text x="235.0" y="49" transform="rotate(-45 235.0 49)" font-size="8.3" fill="#111" style="stroke-width:0.16px">BC133</text>
<text x="235.9" y="71.7" font-size="7.8" fill="#333" text-anchor="middle" style="stroke-width:0">28</text>
<line x1="265.4" y1="52.0" x2="265.4" y2="58.4" stroke="#86b2d6" stroke-width="1.1"/><path d="M262.9,55.199999999999996 L267.9,55.199999999999996 L265.4,60.4 Z" fill="#86b2d6"/>
<text x="265.2" y="49" transform="rotate(-45 265.2 49)" font-size="8.3" fill="#111" style="stroke-width:0.16px">BC133</text>
<text x="265.6" y="71.7" font-size="7.8" fill="#333" text-anchor="middle" style="stroke-width:0">32</text>
<text x="307.7" y="16.6" font-size="12" font-weight="bold" fill="#000">C</text>
<rect x="308" y="61.7" width="198" height="2.2" fill="#3a3a3a"/>
<line x1="314.4" y1="52.0" x2="314.4" y2="58.4" stroke="#86b2d6" stroke-width="1.1"/><path d="M311.9,55.199999999999996 L316.9,55.199999999999996 L314.4,60.4 Z" fill="#86b2d6"/>
<text x="315.4" y="49" transform="rotate(-45 315.4 49)" font-size="8.3" fill="#111" style="stroke-width:0.16px">MOLM13</text>
<text x="314.4" y="71.7" font-size="7.8" fill="#333" text-anchor="middle" style="stroke-width:0">0</text>
<line x1="339.3" y1="52.0" x2="339.3" y2="58.4" stroke="#111" stroke-width="1.1"/><path d="M336.8,55.199999999999996 L341.8,55.199999999999996 L339.3,60.4 Z" fill="#111"/>
<text x="340.3" y="49" transform="rotate(-45 340.3 49)" font-size="8.3" fill="#111" style="stroke-width:0.16px">ATC</text>
<text x="339.3" y="71.7" font-size="7.8" fill="#333" text-anchor="middle" style="stroke-width:0">7</text>
<line x1="361.8" y1="52.0" x2="361.8" y2="58.4" stroke="#111" stroke-width="1.1"/><path d="M359.3,55.199999999999996 L364.3,55.199999999999996 L361.8,60.4 Z" fill="#111"/>
<text x="362.8" y="49" transform="rotate(-45 362.8 49)" font-size="8.3" fill="#111" style="stroke-width:0.16px">ATC</text>
<text x="360.8" y="71.7" font-size="7.8" fill="#333" text-anchor="middle" style="stroke-width:0">14</text>
<line x1="383.1" y1="52.0" x2="383.1" y2="58.4" stroke="#111" stroke-width="1.1"/><path d="M380.6,55.199999999999996 L385.6,55.199999999999996 L383.1,60.4 Z" fill="#111"/>
<text x="384.1" y="49" transform="rotate(-45 384.1 49)" font-size="8.3" fill="#111" style="stroke-width:0.16px">ATC</text>
<text x="380.6" y="71.7" font-size="7.8" fill="#333" text-anchor="middle" style="stroke-width:0">21</text>
<line x1="404.7" y1="52.0" x2="404.7" y2="58.4" stroke="#86b2d6" stroke-width="1.1"/><path d="M402.2,55.199999999999996 L407.2,55.199999999999996 L404.7,60.4 Z" fill="#86b2d6"/>
<text x="405.7" y="49" transform="rotate(-45 405.7 49)" font-size="8.3" fill="#111" style="stroke-width:0.16px">BC133</text>
<text x="404.7" y="71.7" font-size="7.8" fill="#333" text-anchor="middle" style="stroke-width:0">28</text>
<line x1="417.33" y1="52.0" x2="417.33" y2="58.4" stroke="#86b2d6" stroke-width="1.1"/><path d="M414.83,55.199999999999996 L419.83,55.199999999999996 L417.33,60.4 Z" fill="#86b2d6"/>
<text x="418.33" y="49" transform="rotate(-45 418.33 49)" font-size="8.3" fill="#111" style="stroke-width:0.16px">BC133</text>
<text x="417.33" y="71.7" font-size="7.8" fill="#333" text-anchor="middle" style="stroke-width:0">31</text>
<line x1="429.96" y1="52.0" x2="429.96" y2="58.4" stroke="#86b2d6" stroke-width="1.1"/><path d="M427.46,55.199999999999996 L432.46,55.199999999999996 L429.96,60.4 Z" fill="#86b2d6"/>
<text x="430.96" y="49" transform="rotate(-45 430.96 49)" font-size="8.3" fill="#111" style="stroke-width:0.16px">BC133</text>
<text x="429.96" y="71.7" font-size="7.8" fill="#333" text-anchor="middle" style="stroke-width:0">34</text>
<line x1="442.59" y1="52.0" x2="442.59" y2="58.4" stroke="#86b2d6" stroke-width="1.1"/><path d="M440.09,55.199999999999996 L445.09,55.199999999999996 L442.59,60.4 Z" fill="#86b2d6"/>
<text x="443.59" y="49" transform="rotate(-45 443.59 49)" font-size="8.3" fill="#111" style="stroke-width:0.16px">BC133</text>
<text x="442.59" y="71.7" font-size="7.8" fill="#333" text-anchor="middle" style="stroke-width:0">37</text>
<line x1="455.21999999999997" y1="52.0" x2="455.21999999999997" y2="58.4" stroke="#86b2d6" stroke-width="1.1"/><path d="M452.71999999999997,55.199999999999996 L457.71999999999997,55.199999999999996 L455.21999999999997,60.4 Z" fill="#86b2d6"/>
<text x="456.21999999999997" y="49" transform="rotate(-45 456.21999999999997 49)" font-size="8.3" fill="#111" style="stroke-width:0.16px">BC133</text>
<text x="455.21999999999997" y="71.7" font-size="7.8" fill="#333" text-anchor="middle" style="stroke-width:0">40</text>
<line x1="467.85" y1="52.0" x2="467.85" y2="58.4" stroke="#86b2d6" stroke-width="1.1"/><path d="M465.35,55.199999999999996 L470.35,55.199999999999996 L467.85,60.4 Z" fill="#86b2d6"/>
<text x="468.85" y="49" transform="rotate(-45 468.85 49)" font-size="8.3" fill="#111" style="stroke-width:0.16px">BC133</text>
<text x="467.85" y="71.7" font-size="7.8" fill="#333" text-anchor="middle" style="stroke-width:0">43</text>
<line x1="480.48" y1="52.0" x2="480.48" y2="58.4" stroke="#86b2d6" stroke-width="1.1"/><path d="M477.98,55.199999999999996 L482.98,55.199999999999996 L480.48,60.4 Z" fill="#86b2d6"/>
<text x="481.48" y="49" transform="rotate(-45 481.48 49)" font-size="8.3" fill="#111" style="stroke-width:0.16px">BC133</text>
<text x="480.48" y="71.7" font-size="7.8" fill="#333" text-anchor="middle" style="stroke-width:0">47</text>
<line x1="493.11" y1="52.0" x2="493.11" y2="58.4" stroke="#86b2d6" stroke-width="1.1"/><path d="M490.61,55.199999999999996 L495.61,55.199999999999996 L493.11,60.4 Z" fill="#86b2d6"/>
<text x="494.11" y="49" transform="rotate(-45 494.11 49)" font-size="8.3" fill="#111" style="stroke-width:0.16px">BC133</text>
<text x="493.11" y="71.7" font-size="7.8" fill="#333" text-anchor="middle" style="stroke-width:0">51</text>
<text x="35" y="87.2" font-size="8" fill="#222" text-anchor="end" >ATC:</text>
<text x="51" y="101.5" font-size="8" fill="#222" text-anchor="end" >BC133 (ug):</text>
<line x1="8" y1="90.8" x2="43" y2="90.8" stroke="#222" stroke-width="1.3" stroke-dasharray="1,1"/>
<line x1="44.5" y1="90.8" x2="78.6" y2="90.8" stroke="#111" stroke-width="1.7"/><path d="M42.5,90.8 L51.0,87.2 L48.5,90.8 L51.0,94.39999999999999 Z" fill="#111"/><path d="M80.6,90.8 L72.1,87.2 L74.6,90.8 L72.1,94.39999999999999 Z" fill="#111"/>
<line x1="83.6" y1="90.8" x2="118.4" y2="90.8" stroke="#111" stroke-width="1.7"/><path d="M81.6,90.8 L90.1,87.2 L87.6,90.8 L90.1,94.39999999999999 Z" fill="#111"/><path d="M120.4,90.8 L111.9,87.2 L114.4,90.8 L111.9,94.39999999999999 Z" fill="#111"/>
<line x1="123.4" y1="90.8" x2="308.3" y2="90.8" stroke="#111" stroke-width="1.7"/><path d="M121.4,90.8 L129.9,87.2 L127.4,90.8 L129.9,94.39999999999999 Z" fill="#111"/><path d="M310.3,90.8 L301.8,87.2 L304.3,90.8 L301.8,94.39999999999999 Z" fill="#111"/>
<text x="62.5" y="86.3" font-size="8" fill="#222" text-anchor="middle" >none</text>
<text x="100.5" y="86.3" font-size="8" fill="#222" text-anchor="middle" >none</text>
<text x="216" y="86.3" font-size="8" fill="#222" text-anchor="middle" >ATC</text>
<text x="63.7" y="101.5" font-size="8" fill="#222" text-anchor="middle" >0</text>
<text x="102.3" y="101.5" font-size="8" fill="#222" text-anchor="middle" >100</text>
<text x="140.3" y="101.5" font-size="8" fill="#222" text-anchor="middle" >0</text>
<text x="178.7" y="101.5" font-size="8" fill="#222" text-anchor="middle" >100</text>
<text x="214.9" y="101.5" font-size="8" fill="#222" text-anchor="middle" >10</text>
<text x="252.5" y="101.5" font-size="8" fill="#222" text-anchor="middle" >1</text>
<text x="289.9" y="101.5" font-size="8" fill="#222" text-anchor="middle" >0.1</text>
<text x="7.3" y="273.7" font-size="12" font-weight="bold" fill="#000">B</text>
<rect x="53" y="278.2" width="2" height="123.60000000000002" fill="#000"/>
<rect x="50.5" y="281.50" width="3" height="1.2" fill="#000"/>
<rect x="51.6" y="294.78" width="1.8" height="0.8" fill="#000"/>
<rect x="51.6" y="291.49" width="1.8" height="0.8" fill="#000"/>
<rect x="51.6" y="289.15" width="1.8" height="0.8" fill="#000"/>
<rect x="51.6" y="287.34" width="1.8" height="0.8" fill="#000"/>
<rect x="51.6" y="285.85" width="1.8" height="0.8" fill="#000"/>
<rect x="51.6" y="284.60" width="1.8" height="0.8" fill="#000"/>
<rect x="51.6" y="283.51" width="1.8" height="0.8" fill="#000"/>
<rect x="51.6" y="282.56" width="1.8" height="0.8" fill="#000"/>
<text x="47.2" y="285.50" font-size="7.6" fill="#111" text-anchor="end">10<tspan dy="-2.9" font-size="5.6">11</tspan></text>
<rect x="50.5" y="300.22" width="3" height="1.2" fill="#000"/>
<rect x="51.6" y="313.50" width="1.8" height="0.8" fill="#000"/>
<rect x="51.6" y="310.21" width="1.8" height="0.8" fill="#000"/>
<rect x="51.6" y="307.87" width="1.8" height="0.8" fill="#000"/>
<rect x="51.6" y="306.06" width="1.8" height="0.8" fill="#000"/>
<rect x="51.6" y="304.57" width="1.8" height="0.8" fill="#000"/>
<rect x="51.6" y="303.32" width="1.8" height="0.8" fill="#000"/>
<rect x="51.6" y="302.23" width="1.8" height="0.8" fill="#000"/>
<rect x="51.6" y="301.28" width="1.8" height="0.8" fill="#000"/>
<text x="47.2" y="304.22" font-size="7.6" fill="#111" text-anchor="end">10<tspan dy="-2.9" font-size="5.6">10</tspan></text>
<rect x="50.5" y="318.94" width="3" height="1.2" fill="#000"/>
<rect x="51.6" y="332.22" width="1.8" height="0.8" fill="#000"/>
<rect x="51.6" y="328.93" width="1.8" height="0.8" fill="#000"/>
<rect x="51.6" y="326.59" width="1.8" height="0.8" fill="#000"/>
<rect x="51.6" y="324.78" width="1.8" height="0.8" fill="#000"/>
<rect x="51.6" y="323.29" width="1.8" height="0.8" fill="#000"/>
<rect x="51.6" y="322.04" width="1.8" height="0.8" fill="#000"/>
<rect x="51.6" y="320.95" width="1.8" height="0.8" fill="#000"/>
<rect x="51.6" y="320.00" width="1.8" height="0.8" fill="#000"/>
<text x="47.2" y="322.94" font-size="7.6" fill="#111" text-anchor="end">10<tspan dy="-2.9" font-size="5.6">9</tspan></text>
<rect x="50.5" y="337.66" width="3" height="1.2" fill="#000"/>
<rect x="51.6" y="350.94" width="1.8" height="0.8" fill="#000"/>
<rect x="51.6" y="347.65" width="1.8" height="0.8" fill="#000"/>
<rect x="51.6" y="345.31" width="1.8" height="0.8" fill="#000"/>
<rect x="51.6" y="343.50" width="1.8" height="0.8" fill="#000"/>
<rect x="51.6" y="342.01" width="1.8" height="0.8" fill="#000"/>
<rect x="51.6" y="340.76" width="1.8" height="0.8" fill="#000"/>
<rect x="51.6" y="339.67" width="1.8" height="0.8" fill="#000"/>
<rect x="51.6" y="338.72" width="1.8" height="0.8" fill="#000"/>
<text x="47.2" y="341.66" font-size="7.6" fill="#111" text-anchor="end">10<tspan dy="-2.9" font-size="5.6">8</tspan></text>
<rect x="50.5" y="356.38" width="3" height="1.2" fill="#000"/>
<rect x="51.6" y="369.66" width="1.8" height="0.8" fill="#000"/>
<rect x="51.6" y="366.37" width="1.8" height="0.8" fill="#000"/>
<rect x="51.6" y="364.03" width="1.8" height="0.8" fill="#000"/>
<rect x="51.6" y="362.22" width="1.8" height="0.8" fill="#000"/>
<rect x="51.6" y="360.73" width="1.8" height="0.8" fill="#000"/>
<rect x="51.6" y="359.48" width="1.8" height="0.8" fill="#000"/>
<rect x="51.6" y="358.39" width="1.8" height="0.8" fill="#000"/>
<rect x="51.6" y="357.44" width="1.8" height="0.8" fill="#000"/>
<text x="47.2" y="360.38" font-size="7.6" fill="#111" text-anchor="end">10<tspan dy="-2.9" font-size="5.6">7</tspan></text>
<rect x="50.5" y="375.10" width="3" height="1.2" fill="#000"/>
<rect x="51.6" y="388.38" width="1.8" height="0.8" fill="#000"/>
<rect x="51.6" y="385.09" width="1.8" height="0.8" fill="#000"/>
<rect x="51.6" y="382.75" width="1.8" height="0.8" fill="#000"/>
<rect x="51.6" y="380.94" width="1.8" height="0.8" fill="#000"/>
<rect x="51.6" y="379.45" width="1.8" height="0.8" fill="#000"/>
<rect x="51.6" y="378.20" width="1.8" height="0.8" fill="#000"/>
<rect x="51.6" y="377.11" width="1.8" height="0.8" fill="#000"/>
<rect x="51.6" y="376.16" width="1.8" height="0.8" fill="#000"/>
<text x="47.2" y="379.10" font-size="7.6" fill="#111" text-anchor="end">10<tspan dy="-2.9" font-size="5.6">6</tspan></text>
<rect x="50.5" y="393.82" width="3" height="1.2" fill="#000"/>
<text x="47.2" y="397.82" font-size="7.6" fill="#111" text-anchor="end">10<tspan dy="-2.9" font-size="5.6">5</tspan></text>
<rect x="52.5" y="399.90000000000003" width="151.5" height="1.9" fill="#000"/>
<rect x="53.40" y="400.8" width="1.2" height="3" fill="#000"/>
<text x="54.00" y="411.3" font-size="7.6" fill="#333" text-anchor="middle">0</text>
<rect x="82.60" y="400.8" width="1.2" height="3" fill="#000"/>
<text x="83.20" y="411.3" font-size="7.6" fill="#333" text-anchor="middle">10</text>
<rect x="111.80" y="400.8" width="1.2" height="3" fill="#000"/>
<text x="112.40" y="411.3" font-size="7.6" fill="#333" text-anchor="middle">20</text>
<rect x="141.00" y="400.8" width="1.2" height="3" fill="#000"/>
<text x="141.60" y="411.3" font-size="7.6" fill="#333" text-anchor="middle">30</text>
<rect x="170.20" y="400.8" width="1.2" height="3" fill="#000"/>
<text x="170.80" y="411.3" font-size="7.6" fill="#333" text-anchor="middle">40</text>
<rect x="199.40" y="400.8" width="1.2" height="3" fill="#000"/>
<text x="200.00" y="411.3" font-size="7.6" fill="#333" text-anchor="middle">50</text>
<text transform="translate(25.4 336.2) rotate(-90)" font-size="9" fill="#111" text-anchor="middle" textLength="45.5" style="stroke-width:0.4px" lengthAdjust="spacingAndGlyphs">Total flux (p/s)</text>
<text x="128.8" y="425.5" font-size="8.2" fill="#111" text-anchor="middle" textLength="78" lengthAdjust="spacingAndGlyphs" style="stroke-width:0.35px">Days after tumor injection</text>
<line x1="68.7" y1="355" x2="68.7" y2="372.3" stroke="#d8b070" stroke-width="0.9"/><line x1="66.5" y1="372.3" x2="70.9" y2="372.3" stroke="#d8b070" stroke-width="0.9"/>
<line x1="89.4" y1="359.6" x2="89.4" y2="356" stroke="#e8a028" stroke-width="0.9"/><line x1="87.2" y1="356" x2="91.60000000000001" y2="356" stroke="#e8a028" stroke-width="0.9"/>
<line x1="89.4" y1="359.6" x2="89.4" y2="372.3" stroke="#222" stroke-width="0.9"/><line x1="87.2" y1="372.3" x2="91.60000000000001" y2="372.3" stroke="#222" stroke-width="0.9"/>
<line x1="109.6" y1="362.3" x2="109.6" y2="354.5" stroke="#e8a028" stroke-width="0.9"/><line x1="107.39999999999999" y1="354.5" x2="111.8" y2="354.5" stroke="#e8a028" stroke-width="0.9"/>
<line x1="129.6" y1="352.2" x2="129.6" y2="346" stroke="#b47228" stroke-width="0.9"/><line x1="127.39999999999999" y1="346" x2="131.79999999999998" y2="346" stroke="#b47228" stroke-width="0.9"/>
<line x1="150.5" y1="334.8" x2="150.5" y2="327" stroke="#b47228" stroke-width="0.9"/><line x1="148.3" y1="327" x2="152.7" y2="327" stroke="#b47228" stroke-width="0.9"/>
<line x1="172.5" y1="309.8" x2="172.5" y2="302" stroke="#b47228" stroke-width="0.9"/><line x1="170.3" y1="302" x2="174.7" y2="302" stroke="#b47228" stroke-width="0.9"/>
<line x1="132.6" y1="308.5" x2="132.6" y2="305.5" stroke="#b01838" stroke-width="0.9"/><line x1="130.4" y1="305.5" x2="134.79999999999998" y2="305.5" stroke="#b01838" stroke-width="0.9"/>
<line x1="153.1" y1="313.1" x2="153.1" y2="308.6" stroke="#b01838" stroke-width="0.9"/><line x1="150.9" y1="308.6" x2="155.29999999999998" y2="308.6" stroke="#b01838" stroke-width="0.9"/>
<line x1="173.5" y1="307.4" x2="173.5" y2="302" stroke="#b01838" stroke-width="0.9"/><line x1="171.3" y1="302" x2="175.7" y2="302" stroke="#b01838" stroke-width="0.9"/>
<line x1="132.6" y1="292.4" x2="132.6" y2="288.2" stroke="#9c94d4" stroke-width="0.9"/><line x1="130.4" y1="288.2" x2="134.79999999999998" y2="288.2" stroke="#9c94d4" stroke-width="0.9"/>
<line x1="132.6" y1="295.6" x2="132.6" y2="299" stroke="#2a4c88" stroke-width="0.9"/><line x1="130.4" y1="299" x2="134.79999999999998" y2="299" stroke="#2a4c88" stroke-width="0.9"/>
<line x1="151.5" y1="366.8" x2="151.5" y2="365.6" stroke="#2a4c88" stroke-width="0.9"/><line x1="148.9" y1="365.6" x2="154.1" y2="365.6" stroke="#2a4c88" stroke-width="0.9"/>
<line x1="170.8" y1="380.6" x2="170.8" y2="386.3" stroke="#d8b070" stroke-width="0.9"/><line x1="168.60000000000002" y1="386.3" x2="173.0" y2="386.3" stroke="#d8b070" stroke-width="0.9"/>
<line x1="109.6" y1="370.6" x2="109.6" y2="374" stroke="#222" stroke-width="0.9"/><line x1="107.39999999999999" y1="374" x2="111.8" y2="374" stroke="#222" stroke-width="0.9"/>
<path d="M74.40,358.50 L89.40,358.50 L109.60,352.70 L129.60,352.20 L150.50,334.80 L172.50,309.80" fill="none" stroke="#b47228" stroke-width="1.7" stroke-linejoin="round"/><path d="M72.0,356.5 L76.80000000000001,356.5 L74.4,360.9 Z" fill="#b47228"/><path d="M87.0,356.5 L91.80000000000001,356.5 L89.4,360.9 Z" fill="#b47228"/><path d="M107.19999999999999,350.7 L112.0,350.7 L109.6,355.09999999999997 Z" fill="#b47228"/><path d="M127.19999999999999,350.2 L132.0,350.2 L129.6,354.59999999999997 Z" fill="#b47228"/><path d="M148.1,332.8 L152.9,332.8 L150.5,337.2 Z" fill="#b47228"/><path d="M170.1,307.8 L174.9,307.8 L172.5,312.2 Z" fill="#b47228"/>
<path d="M74.40,358.50 L89.40,364.80 L109.60,370.60 L129.50,369.00 L150.40,374.30 L170.80,381.50" fill="none" stroke="#111111" stroke-width="1.8" stroke-linejoin="round"/><polygon points="74.40,355.70 75.11,357.53 77.06,357.63 75.54,358.87 76.05,360.77 74.40,359.70 72.75,360.77 73.26,358.87 71.74,357.63 73.69,357.53" fill="#111111"/><polygon points="89.40,362.00 90.11,363.83 92.06,363.93 90.54,365.17 91.05,367.07 89.40,366.00 87.75,367.07 88.26,365.17 86.74,363.93 88.69,363.83" fill="#111111"/><polygon points="109.60,367.80 110.31,369.63 112.26,369.73 110.74,370.97 111.25,372.87 109.60,371.80 107.95,372.87 108.46,370.97 106.94,369.73 108.89,369.63" fill="#111111"/><polygon points="129.50,366.20 130.21,368.03 132.16,368.13 130.64,369.37 131.15,371.27 129.50,370.20 127.85,371.27 128.36,369.37 126.84,368.13 128.79,368.03" fill="#111111"/><polygon points="150.40,371.50 151.11,373.33 153.06,373.43 151.54,374.67 152.05,376.57 150.40,375.50 148.75,376.57 149.26,374.67 147.74,373.43 149.69,373.33" fill="#111111"/><polygon points="170.80,378.70 171.51,380.53 173.46,380.63 171.94,381.87 172.45,383.77 170.80,382.70 169.15,383.77 169.66,381.87 168.14,380.63 170.09,380.53" fill="#111111"/>
<path d="M54.00,355.00 L68.70,355.00 L74.40,358.50 L89.40,359.60 L109.60,362.30 L130.00,368.10 L150.00,377.30 L170.80,380.60" fill="none" stroke="#e8a028" stroke-width="1.8" stroke-linejoin="round"/><rect x="51.5" y="352.5" width="5.0" height="5.0" rx="0.6" fill="#e8a028"/><rect x="66.2" y="352.5" width="5.0" height="5.0" rx="0.6" fill="#e8a028"/><rect x="71.9" y="356.0" width="5.0" height="5.0" rx="0.6" fill="#e8a028"/><rect x="86.9" y="357.1" width="5.0" height="5.0" rx="0.6" fill="#e8a028"/><rect x="107.1" y="359.8" width="5.0" height="5.0" rx="0.6" fill="#e8a028"/><rect x="127.5" y="365.6" width="5.0" height="5.0" rx="0.6" fill="#e8a028"/><rect x="147.5" y="374.8" width="5.0" height="5.0" rx="0.6" fill="#e8a028"/><rect x="168.3" y="378.1" width="5.0" height="5.0" rx="0.6" fill="#e8a028"/>
<path d="M54.00,355.60 L74.40,358.50 L89.40,367.70 L109.80,374.00 L131.20,374.00 L151.50,366.80 L172.00,378.30" fill="none" stroke="#6cb0e4" stroke-width="1.9" stroke-linejoin="round"/><path d="M54,352.96000000000004 L56.64,355.6 L54,358.24 L51.36,355.6 Z" fill="#6cb0e4"/><path d="M74.4,355.86 L77.04,358.5 L74.4,361.14 L71.76,358.5 Z" fill="#6cb0e4"/><path d="M89.4,365.06 L92.04,367.7 L89.4,370.34 L86.76,367.7 Z" fill="#6cb0e4"/><path d="M109.8,371.36 L112.44,374 L109.8,376.64 L107.16,374 Z" fill="#6cb0e4"/><path d="M131.2,371.36 L133.83999999999997,374 L131.2,376.64 L128.56,374 Z" fill="#6cb0e4"/><path d="M151.5,364.16 L154.14,366.8 L151.5,369.44 L148.86,366.8 Z" fill="#6cb0e4"/><path d="M172,375.66 L174.64,378.3 L172,380.94 L169.36,378.3 Z" fill="#6cb0e4"/>
<path d="M54.00,358.80 L71.50,360.50 L92.00,332.20 L112.60,314.20 L132.60,308.50 L153.10,313.10 L173.50,307.40" fill="none" stroke="#b01838" stroke-width="1.9" stroke-linejoin="round"/><path d="M51.6,356.8 L56.4,356.8 L54,361.2 Z" fill="#b01838"/><path d="M69.1,358.5 L73.9,358.5 L71.5,362.9 Z" fill="#b01838"/><path d="M89.6,330.2 L94.4,330.2 L92,334.59999999999997 Z" fill="#b01838"/><path d="M110.19999999999999,312.2 L115.0,312.2 L112.6,316.59999999999997 Z" fill="#b01838"/><path d="M130.2,306.5 L135.0,306.5 L132.6,310.9 Z" fill="#b01838"/><path d="M150.7,311.1 L155.5,311.1 L153.1,315.5 Z" fill="#b01838"/><path d="M171.1,305.4 L175.9,305.4 L173.5,309.79999999999995 Z" fill="#b01838"/>
<path d="M54.00,353.50 L70.40,352.20 L92.00,321.00 L112.60,305.20 L132.60,292.60" fill="none" stroke="#9c94d4" stroke-width="1.8" stroke-linejoin="round"/><rect x="52.0" y="351.5" width="4.0" height="4.0" rx="0.6" fill="#9c94d4"/><rect x="68.4" y="350.2" width="4.0" height="4.0" rx="0.6" fill="#9c94d4"/><rect x="90.0" y="319.0" width="4.0" height="4.0" rx="0.6" fill="#9c94d4"/><rect x="110.6" y="303.2" width="4.0" height="4.0" rx="0.6" fill="#9c94d4"/><rect x="130.6" y="290.6" width="4.0" height="4.0" rx="0.6" fill="#9c94d4"/>
<path d="M54.00,352.50 L70.40,351.80 L92.00,321.40 L112.60,306.20 L132.60,295.60" fill="none" stroke="#2a4c88" stroke-width="2.0" stroke-linejoin="round"/><path d="M54,349.74 L56.76,352.5 L54,355.26 L51.24,352.5 Z" fill="#2a4c88"/><path d="M70.4,349.04 L73.16000000000001,351.8 L70.4,354.56 L67.64,351.8 Z" fill="#2a4c88"/><path d="M92,318.64 L94.76,321.4 L92,324.15999999999997 L89.24,321.4 Z" fill="#2a4c88"/><path d="M112.6,303.44 L115.36,306.2 L112.6,308.96 L109.83999999999999,306.2 Z" fill="#2a4c88"/><path d="M132.6,292.84000000000003 L135.35999999999999,295.6 L132.6,298.36 L129.84,295.6 Z" fill="#2a4c88"/>
<path d="M69.47999999999999,392.1 L73.56,392.1 L71.52,395.84000000000003 Z" fill="#6e9a3c"/>
<path d="M75.32,392.1 L79.4,392.1 L77.36,395.84000000000003 Z" fill="#6e9a3c"/>
<path d="M89.92,392.1 L94.00000000000001,392.1 L91.96000000000001,395.84000000000003 Z" fill="#6e9a3c"/>
<path d="M95.75999999999999,392.1 L99.84,392.1 L97.8,395.84000000000003 Z" fill="#6e9a3c"/>
<path d="M110.36,392.1 L114.44000000000001,392.1 L112.4,395.84000000000003 Z" fill="#6e9a3c"/>
<path d="M116.19999999999999,392.1 L120.28,392.1 L118.24,395.84000000000003 Z" fill="#6e9a3c"/>
<path d="M124.96,392.1 L129.04,392.1 L127.0,395.84000000000003 Z" fill="#6e9a3c"/>
<path d="M133.72,392.1 L137.79999999999998,392.1 L135.76,395.84000000000003 Z" fill="#6e9a3c"/>
<path d="M145.4,392.1 L149.48,392.1 L147.44,395.84000000000003 Z" fill="#6e9a3c"/>
<path d="M72.28,392.4 L76.6,392.4 L74.44,396.36 Z" fill="#2c2440"/>
<path d="M92.72,392.4 L97.03999999999999,392.4 L94.88,396.36 Z" fill="#2c2440"/>
<path d="M113.16,392.4 L117.47999999999999,392.4 L115.32,396.36 Z" fill="#2c2440"/>
<line x1="200" y1="296.3" x2="207.4" y2="296.3" stroke="#6cb0e4" stroke-width="1.6"/>
<path d="M203.7,293.54 L206.45999999999998,296.3 L203.7,299.06 L200.94,296.3 Z" fill="#6cb0e4"/>
<text x="211.8" y="299.05" font-size="7.85" fill="#111">ATC/BC133 100ug</text>
<line x1="200" y1="305.48" x2="207.4" y2="305.48" stroke="#e8a028" stroke-width="1.6"/>
<rect x="201.39999999999998" y="303.18" width="4.6" height="4.6" rx="0.6" fill="#e8a028"/>
<text x="211.8" y="308.23" font-size="7.85" fill="#111">ATC/BC133 10ug</text>
<line x1="200" y1="314.66" x2="207.4" y2="314.66" stroke="#111111" stroke-width="1.6"/>
<polygon points="203.70,311.44 204.51,313.54 206.76,313.66 205.01,315.09 205.59,317.27 203.70,316.04 201.81,317.27 202.39,315.09 200.64,313.66 202.89,313.54" fill="#111111"/>
<text x="211.8" y="317.41" font-size="7.85" fill="#111">ATC/BC133 1ug</text>
<line x1="200" y1="323.84000000000003" x2="207.4" y2="323.84000000000003" stroke="#b47228" stroke-width="1.6"/>
<path d="M200.94,321.54 L206.45999999999998,321.54 L203.7,326.6 Z" fill="#b47228"/>
<text x="211.8" y="326.59" font-size="7.85" fill="#111">ATC/BC133 0.1ug</text>
<line x1="200" y1="333.02" x2="207.4" y2="333.02" stroke="#b01838" stroke-width="1.6"/>
<path d="M200.94,330.71999999999997 L206.45999999999998,330.71999999999997 L203.7,335.78 Z" fill="#b01838"/>
<text x="211.8" y="335.77" font-size="7.85" fill="#111">ATC-only</text>
<line x1="200" y1="342.2" x2="207.4" y2="342.2" stroke="#9c94d4" stroke-width="1.6"/>
<path d="M201.39999999999998,341.05 L206.0,341.05 L204.85,344.5 L202.54999999999998,344.5 Z" fill="#9c94d4"/>
<text x="211.8" y="344.95" font-size="7.85" fill="#111">BC133-only 100ug</text>
<line x1="200" y1="351.38" x2="207.4" y2="351.38" stroke="#2a4c88" stroke-width="1.6"/>
<path d="M203.7,348.62 L206.45999999999998,351.38 L203.7,354.14 L200.94,351.38 Z" fill="#2a4c88"/>
<text x="211.8" y="354.13" font-size="7.85" fill="#111">No treatment</text>
<path d="M201.42,358.66 L205.98,358.66 L203.7,362.84 Z" fill="#6e9a3c"/>
<text x="211.8" y="363.31" font-size="7.85" fill="#111">BC133 injection</text>
<path d="M201.42,367.84000000000003 L205.98,367.84000000000003 L203.7,372.02 Z" fill="#2c2440"/>
<text x="211.8" y="372.49" font-size="7.85" fill="#111">ATC injection</text>
<text x="307.9" y="273.6" font-size="12" font-weight="bold" fill="#000">D</text>
<rect x="354.8" y="279.7" width="2" height="121.10000000000002" fill="#000"/>
<rect x="352.3" y="280.20" width="3" height="1.2" fill="#000"/>
<rect x="353.40000000000003" y="293.61" width="1.8" height="0.8" fill="#000"/>
<rect x="353.40000000000003" y="290.28" width="1.8" height="0.8" fill="#000"/>
<rect x="353.40000000000003" y="287.92" width="1.8" height="0.8" fill="#000"/>
<rect x="353.40000000000003" y="286.09" width="1.8" height="0.8" fill="#000"/>
<rect x="353.40000000000003" y="284.59" width="1.8" height="0.8" fill="#000"/>
<rect x="353.40000000000003" y="283.33" width="1.8" height="0.8" fill="#000"/>
<rect x="353.40000000000003" y="282.23" width="1.8" height="0.8" fill="#000"/>
<rect x="353.40000000000003" y="281.26" width="1.8" height="0.8" fill="#000"/>
<text x="350.3" y="284.20" font-size="7.6" fill="#111" text-anchor="end">10<tspan dy="-2.9" font-size="5.6">11</tspan></text>
<rect x="352.3" y="299.10" width="3" height="1.2" fill="#000"/>
<rect x="353.40000000000003" y="312.51" width="1.8" height="0.8" fill="#000"/>
<rect x="353.40000000000003" y="309.18" width="1.8" height="0.8" fill="#000"/>
<rect x="353.40000000000003" y="306.82" width="1.8" height="0.8" fill="#000"/>
<rect x="353.40000000000003" y="304.99" width="1.8" height="0.8" fill="#000"/>
<rect x="353.40000000000003" y="303.49" width="1.8" height="0.8" fill="#000"/>
<rect x="353.40000000000003" y="302.23" width="1.8" height="0.8" fill="#000"/>
<rect x="353.40000000000003" y="301.13" width="1.8" height="0.8" fill="#000"/>
<rect x="353.40000000000003" y="300.16" width="1.8" height="0.8" fill="#000"/>
<text x="350.3" y="303.10" font-size="7.6" fill="#111" text-anchor="end">10<tspan dy="-2.9" font-size="5.6">10</tspan></text>
<rect x="352.3" y="318.00" width="3" height="1.2" fill="#000"/>
<rect x="353.40000000000003" y="331.41" width="1.8" height="0.8" fill="#000"/>
<rect x="353.40000000000003" y="328.08" width="1.8" height="0.8" fill="#000"/>
<rect x="353.40000000000003" y="325.72" width="1.8" height="0.8" fill="#000"/>
<rect x="353.40000000000003" y="323.89" width="1.8" height="0.8" fill="#000"/>
<rect x="353.40000000000003" y="322.39" width="1.8" height="0.8" fill="#000"/>
<rect x="353.40000000000003" y="321.13" width="1.8" height="0.8" fill="#000"/>
<rect x="353.40000000000003" y="320.03" width="1.8" height="0.8" fill="#000"/>
<rect x="353.40000000000003" y="319.06" width="1.8" height="0.8" fill="#000"/>
<text x="350.3" y="322.00" font-size="7.6" fill="#111" text-anchor="end">10<tspan dy="-2.9" font-size="5.6">9</tspan></text>
<rect x="352.3" y="336.90" width="3" height="1.2" fill="#000"/>
<rect x="353.40000000000003" y="350.31" width="1.8" height="0.8" fill="#000"/>
<rect x="353.40000000000003" y="346.98" width="1.8" height="0.8" fill="#000"/>
<rect x="353.40000000000003" y="344.62" width="1.8" height="0.8" fill="#000"/>
<rect x="353.40000000000003" y="342.79" width="1.8" height="0.8" fill="#000"/>
<rect x="353.40000000000003" y="341.29" width="1.8" height="0.8" fill="#000"/>
<rect x="353.40000000000003" y="340.03" width="1.8" height="0.8" fill="#000"/>
<rect x="353.40000000000003" y="338.93" width="1.8" height="0.8" fill="#000"/>
<rect x="353.40000000000003" y="337.96" width="1.8" height="0.8" fill="#000"/>
<text x="350.3" y="340.90" font-size="7.6" fill="#111" text-anchor="end">10<tspan dy="-2.9" font-size="5.6">8</tspan></text>
<rect x="352.3" y="355.80" width="3" height="1.2" fill="#000"/>
<rect x="353.40000000000003" y="369.21" width="1.8" height="0.8" fill="#000"/>
<rect x="353.40000000000003" y="365.88" width="1.8" height="0.8" fill="#000"/>
<rect x="353.40000000000003" y="363.52" width="1.8" height="0.8" fill="#000"/>
<rect x="353.40000000000003" y="361.69" width="1.8" height="0.8" fill="#000"/>
<rect x="353.40000000000003" y="360.19" width="1.8" height="0.8" fill="#000"/>
<rect x="353.40000000000003" y="358.93" width="1.8" height="0.8" fill="#000"/>
<rect x="353.40000000000003" y="357.83" width="1.8" height="0.8" fill="#000"/>
<rect x="353.40000000000003" y="356.86" width="1.8" height="0.8" fill="#000"/>
<text x="350.3" y="359.80" font-size="7.6" fill="#111" text-anchor="end">10<tspan dy="-2.9" font-size="5.6">7</tspan></text>
<rect x="352.3" y="374.70" width="3" height="1.2" fill="#000"/>
<rect x="353.40000000000003" y="388.11" width="1.8" height="0.8" fill="#000"/>
<rect x="353.40000000000003" y="384.78" width="1.8" height="0.8" fill="#000"/>
<rect x="353.40000000000003" y="382.42" width="1.8" height="0.8" fill="#000"/>
<rect x="353.40000000000003" y="380.59" width="1.8" height="0.8" fill="#000"/>
<rect x="353.40000000000003" y="379.09" width="1.8" height="0.8" fill="#000"/>
<rect x="353.40000000000003" y="377.83" width="1.8" height="0.8" fill="#000"/>
<rect x="353.40000000000003" y="376.73" width="1.8" height="0.8" fill="#000"/>
<rect x="353.40000000000003" y="375.76" width="1.8" height="0.8" fill="#000"/>
<text x="350.3" y="378.70" font-size="7.6" fill="#111" text-anchor="end">10<tspan dy="-2.9" font-size="5.6">6</tspan></text>
<rect x="352.3" y="393.60" width="3" height="1.2" fill="#000"/>
<text x="350.3" y="397.60" font-size="7.6" fill="#111" text-anchor="end">10<tspan dy="-2.9" font-size="5.6">5</tspan></text>
<rect x="354.3" y="398.90000000000003" width="85.69999999999999" height="1.9" fill="#000"/>
<rect x="355.20" y="399.8" width="1.2" height="3" fill="#000"/>
<text x="355.80" y="412.3" font-size="7.6" fill="#333" text-anchor="middle">0</text>
<rect x="381.20" y="399.8" width="1.2" height="3" fill="#000"/>
<text x="381.80" y="412.3" font-size="7.6" fill="#333" text-anchor="middle">20</text>
<rect x="407.20" y="399.8" width="1.2" height="3" fill="#000"/>
<text x="407.80" y="412.3" font-size="7.6" fill="#333" text-anchor="middle">40</text>
<rect x="433.20" y="399.8" width="1.2" height="3" fill="#000"/>
<text x="433.80" y="412.3" font-size="7.6" fill="#333" text-anchor="middle">60</text>
<text transform="translate(327.8 336.4) rotate(-90)" font-size="9" fill="#111" text-anchor="middle" textLength="45.5" style="stroke-width:0.4px" lengthAdjust="spacingAndGlyphs">Total flux (p/s)</text>
<text x="398.1" y="426.2" font-size="8.2" fill="#111" text-anchor="middle" textLength="77" lengthAdjust="spacingAndGlyphs" style="stroke-width:0.35px">Days after tumor injection</text>
<line x1="390.90000000000003" y1="299.8" x2="390.90000000000003" y2="297.2" stroke="#b01838" stroke-width="0.9"/><line x1="388.70000000000005" y1="297.2" x2="393.1" y2="297.2" stroke="#b01838" stroke-width="0.9"/>
<line x1="400.0" y1="344.3" x2="400.0" y2="338.3" stroke="#8a86c8" stroke-width="0.9"/><line x1="397.8" y1="338.3" x2="402.2" y2="338.3" stroke="#8a86c8" stroke-width="0.9"/>
<line x1="400.0" y1="344.3" x2="400.0" y2="350" stroke="#8a86c8" stroke-width="0.9"/><line x1="397.8" y1="350" x2="402.2" y2="350" stroke="#8a86c8" stroke-width="0.9"/>
<line x1="409.1" y1="365" x2="409.1" y2="361.5" stroke="#8a86c8" stroke-width="0.9"/><line x1="406.90000000000003" y1="361.5" x2="411.3" y2="361.5" stroke="#8a86c8" stroke-width="0.9"/>
<path d="M390.90,299.80 L400.00,344.30 L409.10,365.00 L416.90,367.20 L426.00,377.60" fill="none" stroke="#8a86c8" stroke-width="1.5" stroke-linejoin="round"/><path d="M388.74,298.0 L393.06000000000006,298.0 L390.90000000000003,301.96000000000004 Z" fill="#8a86c8"/><path d="M397.84,342.5 L402.16,342.5 L400.0,346.46000000000004 Z" fill="#8a86c8"/><path d="M406.94,363.2 L411.26000000000005,363.2 L409.1,367.16 Z" fill="#8a86c8"/><path d="M414.74,365.4 L419.06000000000006,365.4 L416.90000000000003,369.36 Z" fill="#8a86c8"/><path d="M423.84,375.8 L428.16,375.8 L426.0,379.76000000000005 Z" fill="#8a86c8"/>
<path d="M355.80,350.40 L363.60,351.30 L372.70,323.00 L381.80,307.40 L390.90,299.80" fill="none" stroke="#b01838" stroke-width="1.8" stroke-linejoin="round"/><path d="M353.52000000000004,348.5 L358.08,348.5 L355.8,352.67999999999995 Z" fill="#b01838"/><path d="M361.32000000000005,349.40000000000003 L365.88,349.40000000000003 L363.6,353.58 Z" fill="#b01838"/><path d="M370.42,321.1 L374.97999999999996,321.1 L372.7,325.28 Z" fill="#b01838"/><path d="M379.52000000000004,305.5 L384.08,305.5 L381.8,309.67999999999995 Z" fill="#b01838"/><path d="M388.62000000000006,297.90000000000003 L393.18,297.90000000000003 L390.90000000000003,302.08 Z" fill="#b01838"/>
<path d="M362.74,392.0 L367.06000000000006,392.0 L364.90000000000003,395.96000000000004 Z" fill="#2c2440"/>
<path d="M371.84,392.0 L376.16,392.0 L374.0,395.96000000000004 Z" fill="#2c2440"/>
<path d="M380.94,392.0 L385.26000000000005,392.0 L383.1,395.96000000000004 Z" fill="#2c2440"/>
<path d="M390.15999999999997,392.1 L394.24,392.1 L392.2,395.84000000000003 Z" fill="#6e9a3c"/>
<path d="M394.06,392.1 L398.14000000000004,392.1 L396.1,395.84000000000003 Z" fill="#6e9a3c"/>
<path d="M397.96,392.1 L402.04,392.1 L400.0,395.84000000000003 Z" fill="#6e9a3c"/>
<path d="M401.86,392.1 L405.94000000000005,392.1 L403.90000000000003,395.84000000000003 Z" fill="#6e9a3c"/>
<path d="M405.76,392.1 L409.84000000000003,392.1 L407.8,395.84000000000003 Z" fill="#6e9a3c"/>
<path d="M409.65999999999997,392.1 L413.74,392.1 L411.7,395.84000000000003 Z" fill="#6e9a3c"/>
<path d="M414.86,392.1 L418.94000000000005,392.1 L416.90000000000003,395.84000000000003 Z" fill="#6e9a3c"/>
<path d="M420.06,392.1 L424.14000000000004,392.1 L422.1,395.84000000000003 Z" fill="#6e9a3c"/>
<line x1="432.3" y1="296.4" x2="439.5" y2="296.4" stroke="#b01838" stroke-width="1.6"/>
<path d="M433.48,294.29999999999995 L438.52,294.29999999999995 L436.0,298.91999999999996 Z" fill="#b01838"/>
<text x="443.6" y="299.15" font-size="7.6" fill="#111">ATC-only</text>
<line x1="432.3" y1="304.5" x2="439.5" y2="304.5" stroke="#8a86c8" stroke-width="1.6"/>
<path d="M433.9,303.45 L438.1,303.45 L437.05,306.6 L434.95,306.6 Z" fill="#8a86c8"/>
<text x="443.6" y="307.25" font-size="7.6" fill="#111">BC133-only 100ug</text>
<path d="M433.72,310.7 L438.28,310.7 L436.0,314.87999999999994 Z" fill="#6e9a3c"/>
<text x="443.6" y="315.35" font-size="7.6" fill="#111">BC133 injection</text>
<path d="M433.72,318.8 L438.28,318.8 L436.0,322.97999999999996 Z" fill="#2c2440"/>
<text x="443.6" y="323.45" font-size="7.6" fill="#111">ATC injection</text>
<text transform="translate(36.4 125) rotate(-90)" font-size="8.4" fill="#111" text-anchor="middle">Day 6</text>
<text transform="translate(36.4 158.8) rotate(-90)" font-size="8.4" fill="#111" text-anchor="middle">Day 13</text>
<text transform="translate(36.4 190.6) rotate(-90)" font-size="8.4" fill="#111" text-anchor="middle">Day 20</text>
<text transform="translate(36.4 229) rotate(-90)" font-size="8.4" fill="#111" text-anchor="middle">Day 27</text>
<text transform="translate(384.0 125.6) rotate(-90)" font-size="8.4" fill="#111" text-anchor="middle">Day 27</text>
<text transform="translate(384.0 158.9) rotate(-90)" font-size="8.4" fill="#111" text-anchor="middle">Day 35</text>
<text transform="translate(384.0 191.6) rotate(-90)" font-size="8.4" fill="#111" text-anchor="middle">Day 47</text>
<text transform="translate(384.0 226.8) rotate(-90)" font-size="8.4" fill="#111" text-anchor="middle">Day 54</text>
<path d="M431.5,106.5 Q438,106.5 438,113 L438,138" fill="none" stroke="#c4c4c4" stroke-width="2.6"/>
<path d="M432.7,137.7 L444.2,137.7 L438.4,143.8 Z" fill="#c4c4c4"/>
<path d="M431.5,145.5 Q437.8,145.5 437.8,152 L437.8,240" fill="none" stroke="#c4c4c4" stroke-width="2.6"/>
<path d="M432.5,239.4 L443.9,239.4 L438.2,245.7 Z" fill="#c4c4c4"/>
<text x="445" y="125.4" font-size="8.2" fill="#111">ATC</text>
<text x="445" y="193.4" font-size="8.4" fill="#111">BC133 100ug</text>
</g>
<path d="M0.5,0.6 H519 V436 H0.5 Z" fill="none" stroke="#000" stroke-width="1.2"/>
<rect x="518.2" y="0" width="1.8" height="437" fill="#000"/>
<rect x="0" y="435.2" width="520" height="1.8" fill="#000"/>
<rect x="0" y="0" width="1.1" height="437" fill="#000"/>
<rect x="0" y="0" width="520" height="1.1" fill="#000"/>
</svg>
</body></html>
